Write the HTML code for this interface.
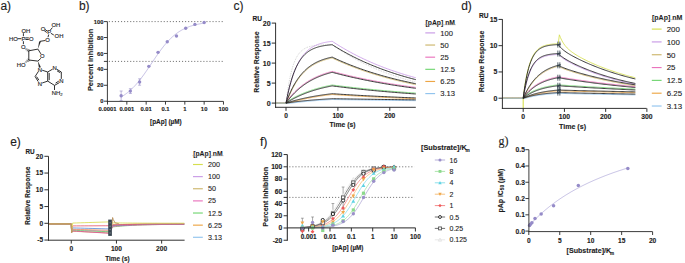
<!DOCTYPE html>
<html><head><meta charset="utf-8"><style>
html,body{margin:0;padding:0;background:#fff;width:685px;height:263px;overflow:hidden}
svg{display:block}
</style></head><body>
<svg width="685" height="263" viewBox="0 0 685 263">
<rect width="685" height="263" fill="#fff"/>
<text x="0.40" y="9.70" font-size="12" text-anchor="start" font-weight="normal" fill="#1c1c1c" font-family='"Liberation Sans", sans-serif'  stroke="#1c1c1c" stroke-width="0.12">a)</text>
<text x="25.80" y="32.81" font-size="5.9" text-anchor="middle" font-weight="normal" fill="#262626" font-family='"Liberation Sans", sans-serif'  stroke="#262626" stroke-width="0.15">OH</text>
<text x="13.50" y="40.81" font-size="5.9" text-anchor="middle" font-weight="normal" fill="#262626" font-family='"Liberation Sans", sans-serif'  stroke="#262626" stroke-width="0.15">HO</text>
<text x="23.50" y="40.81" font-size="5.9" text-anchor="middle" font-weight="normal" fill="#262626" font-family='"Liberation Sans", sans-serif'  stroke="#262626" stroke-width="0.15">P</text>
<text x="31.30" y="40.81" font-size="5.9" text-anchor="middle" font-weight="normal" fill="#262626" font-family='"Liberation Sans", sans-serif'  stroke="#262626" stroke-width="0.15">O</text>
<text x="23.20" y="48.81" font-size="5.9" text-anchor="middle" font-weight="normal" fill="#262626" font-family='"Liberation Sans", sans-serif'  stroke="#262626" stroke-width="0.15">O</text>
<line x1="23.40" y1="33.20" x2="23.40" y2="36.20" stroke="#262626" stroke-width="0.95" />
<line x1="17.60" y1="38.70" x2="21.40" y2="38.70" stroke="#262626" stroke-width="0.95" />
<line x1="25.40" y1="37.90" x2="28.80" y2="37.90" stroke="#262626" stroke-width="0.95" />
<line x1="25.40" y1="39.50" x2="28.80" y2="39.50" stroke="#262626" stroke-width="0.95" />
<line x1="23.40" y1="41.20" x2="23.40" y2="44.20" stroke="#262626" stroke-width="0.95" />
<text x="55.80" y="27.41" font-size="5.9" text-anchor="middle" font-weight="normal" fill="#262626" font-family='"Liberation Sans", sans-serif'  stroke="#262626" stroke-width="0.15">OH</text>
<text x="43.00" y="30.81" font-size="5.9" text-anchor="middle" font-weight="normal" fill="#262626" font-family='"Liberation Sans", sans-serif'  stroke="#262626" stroke-width="0.15">O</text>
<text x="49.20" y="34.21" font-size="5.9" text-anchor="middle" font-weight="normal" fill="#262626" font-family='"Liberation Sans", sans-serif'  stroke="#262626" stroke-width="0.15">P</text>
<text x="59.00" y="38.21" font-size="5.9" text-anchor="middle" font-weight="normal" fill="#262626" font-family='"Liberation Sans", sans-serif'  stroke="#262626" stroke-width="0.15">OH</text>
<text x="47.50" y="41.61" font-size="5.9" text-anchor="middle" font-weight="normal" fill="#262626" font-family='"Liberation Sans", sans-serif'  stroke="#262626" stroke-width="0.15">O</text>
<line x1="50.40" y1="30.00" x2="52.40" y2="27.60" stroke="#262626" stroke-width="0.95" />
<line x1="45.00" y1="29.50" x2="47.50" y2="31.20" stroke="#262626" stroke-width="0.95" />
<line x1="44.30" y1="30.80" x2="46.80" y2="32.50" stroke="#262626" stroke-width="0.95" />
<line x1="50.90" y1="33.30" x2="53.80" y2="35.00" stroke="#262626" stroke-width="0.95" />
<line x1="48.70" y1="34.50" x2="48.00" y2="37.20" stroke="#262626" stroke-width="0.95" />
<line x1="45.30" y1="40.50" x2="40.20" y2="41.30" stroke="#262626" stroke-width="0.95" />
<text x="42.40" y="58.11" font-size="5.9" text-anchor="middle" font-weight="normal" fill="#262626" font-family='"Liberation Sans", sans-serif'  stroke="#262626" stroke-width="0.15">O</text>
<line x1="28.80" y1="50.80" x2="37.90" y2="49.10" stroke="#262626" stroke-width="0.95" />
<line x1="37.90" y1="49.10" x2="40.90" y2="53.90" stroke="#262626" stroke-width="0.95" />
<line x1="40.90" y1="58.30" x2="37.90" y2="61.10" stroke="#262626" stroke-width="0.95" />
<line x1="37.90" y1="61.10" x2="28.80" y2="60.00" stroke="#262626" stroke-width="0.95" />
<line x1="28.80" y1="60.00" x2="28.80" y2="50.80" stroke="#262626" stroke-width="0.95" />
<polygon points="37.90,49.10 39.10,41.50 41.10,41.10" fill="#262626"/>
<polygon points="37.90,61.10 38.90,67.80 40.90,67.30" fill="#262626"/>
<line x1="27.98" y1="52.05" x2="29.62" y2="49.55" stroke="#262626" stroke-width="0.7" />
<line x1="27.18" y1="51.19" x2="28.52" y2="49.16" stroke="#262626" stroke-width="0.7" />
<line x1="26.38" y1="50.33" x2="27.42" y2="48.77" stroke="#262626" stroke-width="0.7" />
<line x1="25.59" y1="49.47" x2="26.31" y2="48.38" stroke="#262626" stroke-width="0.7" />
<line x1="24.79" y1="48.61" x2="25.21" y2="47.99" stroke="#262626" stroke-width="0.7" />
<text x="21.10" y="66.61" font-size="5.9" text-anchor="middle" font-weight="normal" fill="#262626" font-family='"Liberation Sans", sans-serif'  stroke="#262626" stroke-width="0.15">HO</text>
<line x1="29.68" y1="61.22" x2="27.92" y2="58.78" stroke="#262626" stroke-width="0.7" />
<line x1="28.61" y1="61.64" x2="27.19" y2="59.66" stroke="#262626" stroke-width="0.7" />
<line x1="27.55" y1="62.06" x2="26.45" y2="60.54" stroke="#262626" stroke-width="0.7" />
<line x1="26.48" y1="62.48" x2="25.72" y2="61.42" stroke="#262626" stroke-width="0.7" />
<line x1="25.42" y1="62.90" x2="24.98" y2="62.30" stroke="#262626" stroke-width="0.7" />
<text x="39.90" y="71.61" font-size="5.9" text-anchor="middle" font-weight="normal" fill="#262626" font-family='"Liberation Sans", sans-serif'  stroke="#262626" stroke-width="0.15">N</text>
<text x="39.80" y="86.01" font-size="5.9" text-anchor="middle" font-weight="normal" fill="#262626" font-family='"Liberation Sans", sans-serif'  stroke="#262626" stroke-width="0.15">N</text>
<text x="54.60" y="70.11" font-size="5.9" text-anchor="middle" font-weight="normal" fill="#262626" font-family='"Liberation Sans", sans-serif'  stroke="#262626" stroke-width="0.15">N</text>
<text x="61.50" y="83.31" font-size="5.9" text-anchor="middle" font-weight="normal" fill="#262626" font-family='"Liberation Sans", sans-serif'  stroke="#262626" stroke-width="0.15">N</text>
<line x1="38.30" y1="71.60" x2="35.10" y2="76.50" stroke="#262626" stroke-width="0.95" />
<line x1="35.10" y1="76.50" x2="38.20" y2="81.60" stroke="#262626" stroke-width="0.95" />
<line x1="36.60" y1="76.60" x2="38.90" y2="80.20" stroke="#262626" stroke-width="0.95" />
<line x1="42.20" y1="83.00" x2="47.70" y2="81.10" stroke="#262626" stroke-width="0.95" />
<line x1="47.70" y1="81.10" x2="47.70" y2="72.00" stroke="#262626" stroke-width="0.95" />
<line x1="49.20" y1="80.10" x2="49.20" y2="73.00" stroke="#262626" stroke-width="0.95" />
<line x1="47.70" y1="72.00" x2="42.20" y2="70.20" stroke="#262626" stroke-width="0.95" />
<line x1="47.70" y1="72.00" x2="52.50" y2="69.20" stroke="#262626" stroke-width="0.95" />
<line x1="56.70" y1="69.20" x2="61.30" y2="72.00" stroke="#262626" stroke-width="0.95" />
<line x1="57.00" y1="70.80" x2="60.20" y2="72.70" stroke="#262626" stroke-width="0.95" />
<line x1="61.30" y1="72.00" x2="61.30" y2="78.90" stroke="#262626" stroke-width="0.95" />
<line x1="59.40" y1="82.60" x2="54.50" y2="85.40" stroke="#262626" stroke-width="0.95" />
<line x1="58.80" y1="81.10" x2="55.60" y2="83.10" stroke="#262626" stroke-width="0.95" />
<line x1="54.50" y1="85.40" x2="47.70" y2="81.10" stroke="#262626" stroke-width="0.95" />
<line x1="54.50" y1="85.40" x2="54.50" y2="90.00" stroke="#262626" stroke-width="0.95" />
<text x="51.80" y="95.31" font-size="5.9" text-anchor="start" font-weight="normal" fill="#262626" font-family='"Liberation Sans", sans-serif'  stroke="#262626" stroke-width="0.15">NH</text>
<text x="60.30" y="96.10" font-size="4.2" text-anchor="start" font-weight="normal" fill="#262626" font-family='"Liberation Sans", sans-serif'  stroke="#262626" stroke-width="0.1">2</text>
<text x="78.90" y="9.90" font-size="12" text-anchor="start" font-weight="normal" fill="#1c1c1c" font-family='"Liberation Sans", sans-serif'  stroke="#1c1c1c" stroke-width="0.12">b)</text>
<line x1="108.80" y1="21.60" x2="223.48" y2="21.60" stroke="#444" stroke-width="0.75" stroke-dasharray="1.1 1.95"/>
<line x1="108.80" y1="61.40" x2="223.48" y2="61.40" stroke="#444" stroke-width="0.75" stroke-dasharray="1.1 1.95"/>
<line x1="103.90" y1="61.40" x2="107.40" y2="61.40" stroke="#262626" stroke-width="0.9" />
<polyline points="121.15,96.92 121.85,96.52 122.54,96.10 123.24,95.67 123.94,95.22 124.64,94.76 125.33,94.28 126.03,93.78 126.73,93.26 127.43,92.72 128.12,92.17 128.82,91.59 129.52,91.00 130.22,90.39 130.91,89.76 131.61,89.10 132.31,88.43 133.01,87.74 133.70,87.03 134.40,86.30 135.10,85.55 135.80,84.78 136.49,83.99 137.19,83.18 137.89,82.36 138.59,81.51 139.28,80.65 139.98,79.77 140.68,78.87 141.38,77.96 142.07,77.03 142.77,76.09 143.47,75.13 144.17,74.16 144.86,73.17 145.56,72.18 146.26,71.18 146.96,70.16 147.65,69.14 148.35,68.11 149.05,67.08 149.75,66.04 150.44,65.00 151.14,63.96 151.84,62.92 152.54,61.87 153.23,60.83 153.93,59.79 154.63,58.76 155.33,57.73 156.02,56.71 156.72,55.70 157.42,54.70 158.12,53.71 158.81,52.72 159.51,51.75 160.21,50.80 160.91,49.86 161.60,48.93 162.30,48.02 163.00,47.12 163.70,46.24 164.39,45.38 165.09,44.54 165.79,43.71 166.49,42.91 167.18,42.12 167.88,41.35 168.58,40.61 169.28,39.88 169.97,39.17 170.67,38.48 171.37,37.81 172.07,37.16 172.76,36.53 173.46,35.92 174.16,35.33 174.86,34.76 175.55,34.21 176.25,33.67 176.95,33.16 177.65,32.66 178.34,32.18 179.04,31.71 179.74,31.27 180.44,30.84 181.13,30.42 181.83,30.03 182.53,29.64 183.23,29.27 183.92,28.92 184.62,28.58 185.32,28.25 186.02,27.94 186.71,27.64 187.41,27.35 188.11,27.08 188.81,26.81 189.50,26.56 190.20,26.31 190.90,26.08 191.60,25.86 192.29,25.64 192.99,25.44 193.69,25.25 194.39,25.06 195.08,24.88 195.78,24.71 196.48,24.55 197.18,24.39 197.87,24.24 198.57,24.10 199.27,23.96 199.97,23.83 200.66,23.71 201.36,23.59 202.06,23.48 202.76,23.37 203.45,23.27 204.15,23.17" fill="none" stroke="#aea6d8" stroke-width="0.7" stroke-linejoin="round" />
<line x1="121.15" y1="91.01" x2="121.15" y2="100.56" stroke="#958bc8" stroke-width="0.6" />
<line x1="119.65" y1="91.01" x2="122.65" y2="91.01" stroke="#958bc8" stroke-width="0.6" />
<line x1="119.65" y1="100.56" x2="122.65" y2="100.56" stroke="#958bc8" stroke-width="0.6" />
<circle cx="121.15" cy="95.79" r="1.7" fill="#958bc8"/>
<line x1="130.37" y1="88.70" x2="130.37" y2="93.48" stroke="#958bc8" stroke-width="0.6" />
<line x1="128.87" y1="88.70" x2="131.87" y2="88.70" stroke="#958bc8" stroke-width="0.6" />
<line x1="128.87" y1="93.48" x2="131.87" y2="93.48" stroke="#958bc8" stroke-width="0.6" />
<circle cx="130.37" cy="91.09" r="1.7" fill="#958bc8"/>
<line x1="139.59" y1="78.83" x2="139.59" y2="85.20" stroke="#958bc8" stroke-width="0.6" />
<line x1="138.09" y1="78.83" x2="141.09" y2="78.83" stroke="#958bc8" stroke-width="0.6" />
<line x1="138.09" y1="85.20" x2="141.09" y2="85.20" stroke="#958bc8" stroke-width="0.6" />
<circle cx="139.59" cy="82.02" r="1.7" fill="#958bc8"/>
<circle cx="148.82" cy="66.34" r="1.7" fill="#958bc8"/>
<circle cx="158.04" cy="52.33" r="1.7" fill="#958bc8"/>
<circle cx="167.26" cy="41.82" r="1.7" fill="#958bc8"/>
<circle cx="176.48" cy="35.93" r="1.7" fill="#958bc8"/>
<circle cx="185.71" cy="28.21" r="1.7" fill="#958bc8"/>
<circle cx="194.93" cy="24.39" r="1.7" fill="#958bc8"/>
<circle cx="204.15" cy="22.48" r="1.7" fill="#958bc8"/>
<line x1="107.40" y1="21.60" x2="107.40" y2="101.90" stroke="#262626" stroke-width="0.9" />
<line x1="106.90" y1="101.40" x2="223.40" y2="101.40" stroke="#262626" stroke-width="0.9" />
<line x1="103.90" y1="101.20" x2="107.40" y2="101.20" stroke="#262626" stroke-width="0.9" />
<text x="103.40" y="103.28" font-size="5.8" text-anchor="end" font-weight="bold" fill="#1c1c1c" font-family='"Liberation Sans", sans-serif'  stroke="#1c1c1c" stroke-width="0.12">0</text>
<line x1="103.90" y1="85.28" x2="107.40" y2="85.28" stroke="#262626" stroke-width="0.9" />
<text x="103.40" y="87.36" font-size="5.8" text-anchor="end" font-weight="bold" fill="#1c1c1c" font-family='"Liberation Sans", sans-serif'  stroke="#1c1c1c" stroke-width="0.12">20</text>
<line x1="103.90" y1="69.36" x2="107.40" y2="69.36" stroke="#262626" stroke-width="0.9" />
<text x="103.40" y="71.44" font-size="5.8" text-anchor="end" font-weight="bold" fill="#1c1c1c" font-family='"Liberation Sans", sans-serif'  stroke="#1c1c1c" stroke-width="0.12">40</text>
<line x1="103.90" y1="53.44" x2="107.40" y2="53.44" stroke="#262626" stroke-width="0.9" />
<text x="103.40" y="55.52" font-size="5.8" text-anchor="end" font-weight="bold" fill="#1c1c1c" font-family='"Liberation Sans", sans-serif'  stroke="#1c1c1c" stroke-width="0.12">60</text>
<line x1="103.90" y1="37.52" x2="107.40" y2="37.52" stroke="#262626" stroke-width="0.9" />
<text x="103.40" y="39.60" font-size="5.8" text-anchor="end" font-weight="bold" fill="#1c1c1c" font-family='"Liberation Sans", sans-serif'  stroke="#1c1c1c" stroke-width="0.12">80</text>
<line x1="103.90" y1="21.60" x2="107.40" y2="21.60" stroke="#262626" stroke-width="0.9" />
<text x="103.40" y="23.68" font-size="5.8" text-anchor="end" font-weight="bold" fill="#1c1c1c" font-family='"Liberation Sans", sans-serif'  stroke="#1c1c1c" stroke-width="0.12">100</text>
<line x1="107.50" y1="101.40" x2="107.50" y2="104.60" stroke="#262626" stroke-width="0.9" />
<text x="107.50" y="111.41" font-size="5.9" text-anchor="middle" font-weight="bold" fill="#1c1c1c" font-family='"Liberation Sans", sans-serif'  stroke="#1c1c1c" stroke-width="0.12">0.0001</text>
<line x1="126.83" y1="101.40" x2="126.83" y2="104.60" stroke="#262626" stroke-width="0.9" />
<text x="126.83" y="111.41" font-size="5.9" text-anchor="middle" font-weight="bold" fill="#1c1c1c" font-family='"Liberation Sans", sans-serif'  stroke="#1c1c1c" stroke-width="0.12">0.001</text>
<line x1="146.16" y1="101.40" x2="146.16" y2="104.60" stroke="#262626" stroke-width="0.9" />
<text x="146.16" y="111.41" font-size="5.9" text-anchor="middle" font-weight="bold" fill="#1c1c1c" font-family='"Liberation Sans", sans-serif'  stroke="#1c1c1c" stroke-width="0.12">0.01</text>
<line x1="165.49" y1="101.40" x2="165.49" y2="104.60" stroke="#262626" stroke-width="0.9" />
<text x="165.49" y="111.41" font-size="5.9" text-anchor="middle" font-weight="bold" fill="#1c1c1c" font-family='"Liberation Sans", sans-serif'  stroke="#1c1c1c" stroke-width="0.12">0.1</text>
<line x1="184.82" y1="101.40" x2="184.82" y2="104.60" stroke="#262626" stroke-width="0.9" />
<text x="184.82" y="111.41" font-size="5.9" text-anchor="middle" font-weight="bold" fill="#1c1c1c" font-family='"Liberation Sans", sans-serif'  stroke="#1c1c1c" stroke-width="0.12">1</text>
<line x1="204.15" y1="101.40" x2="204.15" y2="104.60" stroke="#262626" stroke-width="0.9" />
<text x="204.15" y="111.41" font-size="5.9" text-anchor="middle" font-weight="bold" fill="#1c1c1c" font-family='"Liberation Sans", sans-serif'  stroke="#1c1c1c" stroke-width="0.12">10</text>
<line x1="223.48" y1="101.40" x2="223.48" y2="104.60" stroke="#262626" stroke-width="0.9" />
<text x="223.48" y="111.41" font-size="5.9" text-anchor="middle" font-weight="bold" fill="#1c1c1c" font-family='"Liberation Sans", sans-serif'  stroke="#1c1c1c" stroke-width="0.12">100</text>
<text x="165.90" y="124.49" font-size="6.4" text-anchor="middle" font-weight="bold" fill="#1c1c1c" font-family='"Liberation Sans", sans-serif'  stroke="#1c1c1c" stroke-width="0.12">[pAp] (µM)</text>
<text transform="translate(90.00,59.90) rotate(-90)" x="0" y="2.65" font-size="7.4" text-anchor="middle" font-weight="bold" fill="#1c1c1c" font-family='"Liberation Sans", sans-serif'  stroke="#1c1c1c" stroke-width="0.12">Percent Inhibition</text>
<text x="233.60" y="9.90" font-size="12" text-anchor="start" font-weight="normal" fill="#1c1c1c" font-family='"Liberation Sans", sans-serif'  stroke="#1c1c1c" stroke-width="0.12">c)</text>
<text x="252.60" y="20.96" font-size="6.6" text-anchor="start" font-weight="bold" fill="#1c1c1c" font-family='"Liberation Sans", sans-serif'  stroke="#1c1c1c" stroke-width="0.12">RU</text>
<polyline points="287.04,94.96 287.96,88.68 288.88,83.19 289.80,78.38 290.72,74.17 291.65,70.49 292.57,67.26 293.49,64.44 294.41,61.97 295.33,59.81 296.25,57.92 297.17,56.26 298.10,54.81 299.02,53.54 299.94,52.43 300.86,51.45 301.78,50.60 302.70,49.86 303.62,49.21 304.55,48.63 305.47,48.14 306.39,47.70 307.31,47.31 308.23,46.98 309.15,46.69 310.08,46.43 311.00,46.20 311.92,46.01 312.84,45.84 313.76,45.68 314.68,45.55 315.60,45.44 316.53,45.34 317.45,45.25 318.37,45.17 319.29,45.10 320.21,45.04 321.13,44.99 322.05,44.95 322.98,44.91 323.90,44.87 324.82,44.84 325.74,44.81 326.66,44.79 327.58,44.77 328.51,44.75 329.43,44.74 330.35,44.72 331.27,44.71 332.19,44.70 332.19,44.70 334.33,46.21 336.48,47.68 338.62,49.11 340.76,50.51 342.90,51.87 345.05,53.19 347.19,54.48 349.33,55.74 351.47,56.97 353.62,58.16 355.76,59.32 357.90,60.45 360.04,61.56 362.19,62.63 364.33,63.68 366.47,64.70 368.61,65.69 370.76,66.66 372.90,67.60 375.04,68.52 377.18,69.41 379.33,70.28 381.47,71.13 383.61,71.96 385.75,72.76 387.90,73.55 390.04,74.31 392.18,75.05 394.32,75.78 396.47,76.49 398.61,77.17 400.75,77.84 402.89,78.50 405.04,79.13 407.18,79.75 409.32,80.36 411.46,80.95 413.61,81.52 415.75,82.08" fill="none" stroke="#b0b0b0" stroke-width="0.65" stroke-linejoin="round" stroke-dasharray="0.8 1.0"/>
<polyline points="275.10,103.10 277.83,103.10 280.55,103.10 283.28,103.10 286.00,103.10 286.00,103.10 286.67,99.71 287.34,96.50 288.01,93.46 288.68,90.59 289.35,87.87 290.02,85.30 290.69,82.86 291.36,80.55 292.02,78.37 292.69,76.31 293.36,74.35 294.03,72.51 294.70,70.76 295.37,69.10 296.04,67.53 296.71,66.05 297.38,64.65 298.05,63.32 298.72,62.06 299.39,60.87 300.06,59.75 300.73,58.68 301.40,57.67 302.07,56.72 302.74,55.82 303.41,54.96 304.07,54.15 304.74,53.39 305.41,52.67 306.08,51.98 306.75,51.33 307.42,50.72 308.09,50.14 308.76,49.59 309.43,49.07 310.10,48.58 310.77,48.11 311.44,47.67 312.11,47.25 312.78,46.86 313.45,46.48 314.12,46.13 314.79,45.80 315.46,45.48 316.12,45.18 316.79,44.90 317.46,44.63 318.13,44.37 318.80,44.13 319.47,43.90 320.14,43.69 320.81,43.49 321.48,43.29 322.15,43.11 322.82,42.94 323.49,42.77 324.16,42.62 324.83,42.47 325.50,42.34 326.17,42.20 326.84,42.08 327.50,41.96 328.17,41.85 328.84,41.75 329.51,41.65 330.18,41.55 330.85,41.46 331.52,41.38 332.19,41.30 332.19,41.30 333.61,42.23 335.02,43.14 336.44,44.04 337.86,44.92 339.27,45.80 340.69,46.66 342.10,47.50 343.52,48.34 344.94,49.16 346.35,49.97 347.77,50.76 349.19,51.55 350.60,52.32 352.02,53.08 353.43,53.83 354.85,54.57 356.27,55.30 357.68,56.02 359.10,56.72 360.52,57.42 361.93,58.10 363.35,58.78 364.76,59.44 366.18,60.10 367.60,60.74 369.01,61.38 370.43,62.01 371.85,62.62 373.26,63.23 374.68,63.83 376.09,64.42 377.51,65.00 378.93,65.57 380.34,66.13 381.76,66.68 383.18,67.23 384.59,67.77 386.01,68.30 387.42,68.82 388.84,69.33 390.26,69.84 391.67,70.34 393.09,70.83 394.51,71.32 395.92,71.79 397.34,72.26 398.75,72.72 400.17,73.18 401.59,73.63 403.00,74.07 404.42,74.51 405.84,74.93 407.25,75.36 408.67,75.77 410.08,76.18 411.50,76.59 412.92,76.98 414.33,77.38 415.75,77.76" fill="none" stroke="#c99be6" stroke-width="0.85" stroke-linejoin="round" />
<polyline points="275.10,103.10 277.83,103.10 280.55,103.10 283.28,103.10 286.00,103.10 286.00,103.10 286.67,101.45 287.34,99.86 288.01,98.34 288.68,96.89 289.35,95.43 290.02,93.90 290.69,92.43 291.36,91.01 292.02,89.65 292.69,88.34 293.36,87.07 294.03,85.86 294.70,84.69 295.37,83.56 296.04,82.47 296.71,81.43 297.38,80.42 298.05,79.45 298.72,78.52 299.39,77.62 300.06,76.75 300.73,75.92 301.40,75.12 302.07,74.35 302.74,73.60 303.41,72.89 304.07,72.20 304.74,71.54 305.41,70.90 306.08,70.28 306.75,69.69 307.42,69.12 308.09,68.57 308.76,68.04 309.43,67.54 310.10,67.05 310.77,66.57 311.44,66.12 312.11,65.68 312.78,65.26 313.45,64.86 314.12,64.47 314.79,64.09 315.46,63.73 316.12,63.38 316.79,63.05 317.46,62.72 318.13,62.41 318.80,62.11 319.47,61.83 320.14,61.55 320.81,61.28 321.48,61.03 322.15,60.78 322.82,60.54 323.49,60.31 324.16,60.09 324.83,59.88 325.50,59.67 326.17,59.47 326.84,59.28 327.50,59.10 328.17,58.93 328.84,58.76 329.51,58.59 330.18,58.44 330.85,58.29 331.52,58.14 332.19,58.00 332.19,58.00 333.61,58.67 335.02,59.33 336.44,59.98 337.86,60.62 339.27,61.25 340.69,61.87 342.10,62.48 343.52,63.09 344.94,63.68 346.35,64.27 347.77,64.85 349.19,65.41 350.60,65.98 352.02,66.53 353.43,67.07 354.85,67.61 356.27,68.14 357.68,68.66 359.10,69.17 360.52,69.68 361.93,70.18 363.35,70.67 364.76,71.16 366.18,71.63 367.60,72.10 369.01,72.57 370.43,73.03 371.85,73.48 373.26,73.92 374.68,74.36 376.09,74.79 377.51,75.21 378.93,75.63 380.34,76.04 381.76,76.45 383.18,76.85 384.59,77.25 386.01,77.63 387.42,78.02 388.84,78.40 390.26,78.77 391.67,79.13 393.09,79.50 394.51,79.85 395.92,80.20 397.34,80.55 398.75,80.89 400.17,81.23 401.59,81.56 403.00,81.88 404.42,82.21 405.84,82.52 407.25,82.83 408.67,83.14 410.08,83.45 411.50,83.74 412.92,84.04 414.33,84.33 415.75,84.62" fill="none" stroke="#cdb66c" stroke-width="0.85" stroke-linejoin="round" />
<polyline points="275.10,103.10 277.83,103.10 280.55,103.10 283.28,103.10 286.00,103.10 286.00,103.10 286.67,102.00 287.34,100.91 288.01,99.85 288.68,98.81 289.35,97.86 290.02,97.05 290.69,96.26 291.36,95.50 292.02,94.75 292.69,94.01 293.36,93.30 294.03,92.60 294.70,91.92 295.37,91.26 296.04,90.61 296.71,89.98 297.38,89.36 298.05,88.76 298.72,88.17 299.39,87.60 300.06,87.04 300.73,86.49 301.40,85.96 302.07,85.44 302.74,84.93 303.41,84.44 304.07,83.95 304.74,83.48 305.41,83.02 306.08,82.57 306.75,82.13 307.42,81.71 308.09,81.29 308.76,80.88 309.43,80.48 310.10,80.09 310.77,79.72 311.44,79.35 312.11,78.99 312.78,78.63 313.45,78.29 314.12,77.95 314.79,77.63 315.46,77.31 316.12,77.00 316.79,76.69 317.46,76.39 318.13,76.10 318.80,75.82 319.47,75.55 320.14,75.28 320.81,75.01 321.48,74.76 322.15,74.51 322.82,74.26 323.49,74.02 324.16,73.79 324.83,73.56 325.50,73.34 326.17,73.13 326.84,72.92 327.50,72.71 328.17,72.51 328.84,72.31 329.51,72.12 330.18,71.93 330.85,71.75 331.52,71.57 332.19,71.40 332.19,71.40 333.61,71.78 335.02,72.16 336.44,72.53 337.86,72.89 339.27,73.26 340.69,73.61 342.10,73.97 343.52,74.32 344.94,74.66 346.35,75.00 347.77,75.34 349.19,75.67 350.60,76.00 352.02,76.32 353.43,76.64 354.85,76.96 356.27,77.27 357.68,77.58 359.10,77.88 360.52,78.18 361.93,78.48 363.35,78.77 364.76,79.06 366.18,79.35 367.60,79.63 369.01,79.91 370.43,80.18 371.85,80.45 373.26,80.72 374.68,80.99 376.09,81.25 377.51,81.51 378.93,81.77 380.34,82.02 381.76,82.27 383.18,82.51 384.59,82.76 386.01,83.00 387.42,83.23 388.84,83.47 390.26,83.70 391.67,83.93 393.09,84.15 394.51,84.38 395.92,84.60 397.34,84.82 398.75,85.03 400.17,85.24 401.59,85.45 403.00,85.66 404.42,85.86 405.84,86.06 407.25,86.26 408.67,86.46 410.08,86.66 411.50,86.85 412.92,87.04 414.33,87.22 415.75,87.41" fill="none" stroke="#ea74bd" stroke-width="0.85" stroke-linejoin="round" />
<polyline points="275.10,103.10 277.83,103.10 280.55,103.10 283.28,103.10 286.00,103.10 286.00,103.10 286.67,102.48 287.34,101.87 288.01,101.26 288.68,100.66 289.35,100.14 290.02,99.75 290.69,99.36 291.36,98.99 292.02,98.62 292.69,98.25 293.36,97.89 294.03,97.54 294.70,97.20 295.37,96.86 296.04,96.52 296.71,96.20 297.38,95.87 298.05,95.56 298.72,95.25 299.39,94.94 300.06,94.64 300.73,94.35 301.40,94.06 302.07,93.77 302.74,93.49 303.41,93.22 304.07,92.95 304.74,92.68 305.41,92.42 306.08,92.16 306.75,91.91 307.42,91.67 308.09,91.42 308.76,91.18 309.43,90.95 310.10,90.72 310.77,90.49 311.44,90.27 312.11,90.05 312.78,89.84 313.45,89.62 314.12,89.42 314.79,89.21 315.46,89.01 316.12,88.82 316.79,88.62 317.46,88.43 318.13,88.25 318.80,88.06 319.47,87.88 320.14,87.71 320.81,87.53 321.48,87.36 322.15,87.19 322.82,87.03 323.49,86.87 324.16,86.71 324.83,86.55 325.50,86.40 326.17,86.25 326.84,86.10 327.50,85.95 328.17,85.81 328.84,85.67 329.51,85.53 330.18,85.39 330.85,85.26 331.52,85.13 332.19,85.00 332.19,85.00 333.61,85.18 335.02,85.37 336.44,85.55 337.86,85.73 339.27,85.90 340.69,86.08 342.10,86.25 343.52,86.42 344.94,86.59 346.35,86.76 347.77,86.92 349.19,87.09 350.60,87.25 352.02,87.41 353.43,87.57 354.85,87.73 356.27,87.88 357.68,88.04 359.10,88.19 360.52,88.34 361.93,88.49 363.35,88.63 364.76,88.78 366.18,88.92 367.60,89.07 369.01,89.21 370.43,89.35 371.85,89.48 373.26,89.62 374.68,89.75 376.09,89.89 377.51,90.02 378.93,90.15 380.34,90.28 381.76,90.41 383.18,90.53 384.59,90.66 386.01,90.78 387.42,90.91 388.84,91.03 390.26,91.15 391.67,91.27 393.09,91.38 394.51,91.50 395.92,91.61 397.34,91.73 398.75,91.84 400.17,91.95 401.59,92.06 403.00,92.17 404.42,92.28 405.84,92.38 407.25,92.49 408.67,92.59 410.08,92.70 411.50,92.80 412.92,92.90 414.33,93.00 415.75,93.10" fill="none" stroke="#72d672" stroke-width="0.85" stroke-linejoin="round" />
<polyline points="275.10,103.10 277.83,103.10 280.55,103.10 283.28,103.10 286.00,103.10 286.00,103.10 286.67,103.06 287.34,103.01 288.01,102.98 288.68,102.94 289.35,102.85 290.02,102.65 290.69,102.45 291.36,102.26 292.02,102.06 292.69,101.87 293.36,101.69 294.03,101.50 294.70,101.32 295.37,101.14 296.04,100.97 296.71,100.80 297.38,100.63 298.05,100.46 298.72,100.29 299.39,100.13 300.06,99.97 300.73,99.81 301.40,99.65 302.07,99.50 302.74,99.35 303.41,99.20 304.07,99.05 304.74,98.91 305.41,98.77 306.08,98.63 306.75,98.49 307.42,98.35 308.09,98.22 308.76,98.08 309.43,97.95 310.10,97.82 310.77,97.70 311.44,97.57 312.11,97.45 312.78,97.33 313.45,97.21 314.12,97.09 314.79,96.98 315.46,96.86 316.12,96.75 316.79,96.64 317.46,96.53 318.13,96.42 318.80,96.32 319.47,96.21 320.14,96.11 320.81,96.01 321.48,95.91 322.15,95.81 322.82,95.71 323.49,95.62 324.16,95.52 324.83,95.43 325.50,95.34 326.17,95.25 326.84,95.16 327.50,95.08 328.17,94.99 328.84,94.90 329.51,94.82 330.18,94.74 330.85,94.66 331.52,94.58 332.19,94.50 332.19,94.50 333.61,94.60 335.02,94.69 336.44,94.78 337.86,94.87 339.27,94.97 340.69,95.06 342.10,95.15 343.52,95.23 344.94,95.32 346.35,95.41 347.77,95.49 349.19,95.58 350.60,95.66 352.02,95.75 353.43,95.83 354.85,95.91 356.27,95.99 357.68,96.07 359.10,96.15 360.52,96.23 361.93,96.31 363.35,96.38 364.76,96.46 366.18,96.54 367.60,96.61 369.01,96.68 370.43,96.76 371.85,96.83 373.26,96.90 374.68,96.97 376.09,97.04 377.51,97.11 378.93,97.18 380.34,97.25 381.76,97.32 383.18,97.38 384.59,97.45 386.01,97.51 387.42,97.58 388.84,97.64 390.26,97.70 391.67,97.77 393.09,97.83 394.51,97.89 395.92,97.95 397.34,98.01 398.75,98.07 400.17,98.13 401.59,98.19 403.00,98.25 404.42,98.30 405.84,98.36 407.25,98.42 408.67,98.47 410.08,98.53 411.50,98.58 412.92,98.64 414.33,98.69 415.75,98.74" fill="none" stroke="#eda645" stroke-width="0.85" stroke-linejoin="round" />
<polyline points="275.10,103.10 277.83,103.10 280.55,103.10 283.28,103.10 286.00,103.10 286.00,103.10 286.67,103.17 287.34,103.24 288.01,103.32 288.68,103.39 289.35,103.41 290.02,103.31 290.69,103.22 291.36,103.13 292.02,103.04 292.69,102.95 293.36,102.86 294.03,102.78 294.70,102.69 295.37,102.61 296.04,102.53 296.71,102.45 297.38,102.37 298.05,102.29 298.72,102.21 299.39,102.13 300.06,102.06 300.73,101.99 301.40,101.91 302.07,101.84 302.74,101.77 303.41,101.70 304.07,101.63 304.74,101.56 305.41,101.50 306.08,101.43 306.75,101.37 307.42,101.30 308.09,101.24 308.76,101.18 309.43,101.12 310.10,101.06 310.77,101.00 311.44,100.94 312.11,100.88 312.78,100.82 313.45,100.77 314.12,100.71 314.79,100.66 315.46,100.61 316.12,100.55 316.79,100.50 317.46,100.45 318.13,100.40 318.80,100.35 319.47,100.30 320.14,100.25 320.81,100.21 321.48,100.16 322.15,100.11 322.82,100.07 323.49,100.02 324.16,99.98 324.83,99.94 325.50,99.89 326.17,99.85 326.84,99.81 327.50,99.77 328.17,99.73 328.84,99.69 329.51,99.65 330.18,99.61 330.85,99.57 331.52,99.54 332.19,99.50 332.19,99.50 333.61,99.52 335.02,99.55 336.44,99.57 337.86,99.59 339.27,99.61 340.69,99.64 342.10,99.66 343.52,99.68 344.94,99.70 346.35,99.72 347.77,99.75 349.19,99.77 350.60,99.79 352.02,99.81 353.43,99.83 354.85,99.85 356.27,99.87 357.68,99.89 359.10,99.92 360.52,99.94 361.93,99.96 363.35,99.98 364.76,100.00 366.18,100.02 367.60,100.04 369.01,100.06 370.43,100.08 371.85,100.10 373.26,100.12 374.68,100.14 376.09,100.16 377.51,100.18 378.93,100.20 380.34,100.22 381.76,100.23 383.18,100.25 384.59,100.27 386.01,100.29 387.42,100.31 388.84,100.33 390.26,100.35 391.67,100.37 393.09,100.38 394.51,100.40 395.92,100.42 397.34,100.44 398.75,100.46 400.17,100.47 401.59,100.49 403.00,100.51 404.42,100.53 405.84,100.55 407.25,100.56 408.67,100.58 410.08,100.60 411.50,100.61 412.92,100.63 414.33,100.65 415.75,100.67" fill="none" stroke="#92c4ee" stroke-width="0.85" stroke-linejoin="round" />
<polyline points="286.00,103.10 286.00,103.10 286.67,99.59 287.34,96.30 288.01,93.19 288.68,90.27 289.35,87.53 290.02,84.94 290.69,82.51 291.36,80.22 292.02,78.07 292.69,76.05 293.36,74.14 294.03,72.35 294.70,70.66 295.37,69.07 296.04,67.58 296.71,66.17 297.38,64.85 298.05,63.61 298.72,62.44 299.39,61.34 300.06,60.30 300.73,59.33 301.40,58.41 302.07,57.55 302.74,56.73 303.41,55.97 304.07,55.25 304.74,54.58 305.41,53.94 306.08,53.34 306.75,52.78 307.42,52.25 308.09,51.75 308.76,51.28 309.43,50.84 310.10,50.42 310.77,50.03 311.44,49.67 312.11,49.32 312.78,48.99 313.45,48.69 314.12,48.40 314.79,48.13 315.46,47.87 316.12,47.63 316.79,47.41 317.46,47.20 318.13,47.00 318.80,46.81 319.47,46.63 320.14,46.46 320.81,46.31 321.48,46.16 322.15,46.02 322.82,45.89 323.49,45.77 324.16,45.65 324.83,45.54 325.50,45.44 326.17,45.35 326.84,45.26 327.50,45.17 328.17,45.09 328.84,45.02 329.51,44.94 330.18,44.88 330.85,44.81 331.52,44.76 332.19,44.70 332.19,44.70 333.61,45.60 335.02,46.48 336.44,47.35 337.86,48.20 339.27,49.04 340.69,49.87 342.10,50.69 343.52,51.49 344.94,52.28 346.35,53.06 347.77,53.83 349.19,54.59 350.60,55.33 352.02,56.06 353.43,56.78 354.85,57.49 356.27,58.19 357.68,58.88 359.10,59.56 360.52,60.23 361.93,60.88 363.35,61.53 364.76,62.17 366.18,62.80 367.60,63.42 369.01,64.02 370.43,64.62 371.85,65.21 373.26,65.79 374.68,66.37 376.09,66.93 377.51,67.48 378.93,68.03 380.34,68.57 381.76,69.10 383.18,69.62 384.59,70.13 386.01,70.64 387.42,71.14 388.84,71.63 390.26,72.11 391.67,72.58 393.09,73.05 394.51,73.51 395.92,73.97 397.34,74.41 398.75,74.85 400.17,75.29 401.59,75.71 403.00,76.13 404.42,76.55 405.84,76.95 407.25,77.35 408.67,77.75 410.08,78.14 411.50,78.52 412.92,78.90 414.33,79.27 415.75,79.63" fill="none" stroke="#222" stroke-width="0.9" stroke-linejoin="round" />
<polyline points="286.00,103.10 286.00,103.10 286.67,101.25 287.34,99.48 288.01,97.76 288.68,96.12 289.35,94.53 290.02,93.00 290.69,91.53 291.36,90.11 292.02,88.75 292.69,87.44 293.36,86.17 294.03,84.96 294.70,83.79 295.37,82.66 296.04,81.57 296.71,80.53 297.38,79.52 298.05,78.55 298.72,77.62 299.39,76.72 300.06,75.85 300.73,75.02 301.40,74.22 302.07,73.45 302.74,72.70 303.41,71.99 304.07,71.30 304.74,70.64 305.41,70.00 306.08,69.38 306.75,68.79 307.42,68.22 308.09,67.67 308.76,67.14 309.43,66.64 310.10,66.15 310.77,65.67 311.44,65.22 312.11,64.78 312.78,64.36 313.45,63.96 314.12,63.57 314.79,63.19 315.46,62.83 316.12,62.48 316.79,62.15 317.46,61.82 318.13,61.51 318.80,61.21 319.47,60.93 320.14,60.65 320.81,60.38 321.48,60.13 322.15,59.88 322.82,59.64 323.49,59.41 324.16,59.19 324.83,58.98 325.50,58.77 326.17,58.57 326.84,58.38 327.50,58.20 328.17,58.03 328.84,57.86 329.51,57.69 330.18,57.54 330.85,57.39 331.52,57.24 332.19,57.10 332.19,57.10 333.61,57.77 335.02,58.43 336.44,59.08 337.86,59.72 339.27,60.35 340.69,60.97 342.10,61.58 343.52,62.19 344.94,62.78 346.35,63.37 347.77,63.95 349.19,64.51 350.60,65.08 352.02,65.63 353.43,66.17 354.85,66.71 356.27,67.24 357.68,67.76 359.10,68.27 360.52,68.78 361.93,69.28 363.35,69.77 364.76,70.26 366.18,70.73 367.60,71.20 369.01,71.67 370.43,72.13 371.85,72.58 373.26,73.02 374.68,73.46 376.09,73.89 377.51,74.31 378.93,74.73 380.34,75.14 381.76,75.55 383.18,75.95 384.59,76.35 386.01,76.73 387.42,77.12 388.84,77.50 390.26,77.87 391.67,78.23 393.09,78.60 394.51,78.95 395.92,79.30 397.34,79.65 398.75,79.99 400.17,80.33 401.59,80.66 403.00,80.98 404.42,81.31 405.84,81.62 407.25,81.93 408.67,82.24 410.08,82.55 411.50,82.84 412.92,83.14 414.33,83.43 415.75,83.72" fill="none" stroke="#222" stroke-width="0.9" stroke-linejoin="round" />
<polyline points="286.00,103.10 286.00,103.10 286.67,102.19 287.34,101.30 288.01,100.43 288.68,99.58 289.35,98.76 290.02,97.95 290.69,97.16 291.36,96.40 292.02,95.65 292.69,94.91 293.36,94.20 294.03,93.50 294.70,92.82 295.37,92.16 296.04,91.51 296.71,90.88 297.38,90.26 298.05,89.66 298.72,89.07 299.39,88.50 300.06,87.94 300.73,87.39 301.40,86.86 302.07,86.34 302.74,85.83 303.41,85.34 304.07,84.85 304.74,84.38 305.41,83.92 306.08,83.47 306.75,83.03 307.42,82.61 308.09,82.19 308.76,81.78 309.43,81.38 310.10,80.99 310.77,80.62 311.44,80.25 312.11,79.89 312.78,79.53 313.45,79.19 314.12,78.85 314.79,78.53 315.46,78.21 316.12,77.90 316.79,77.59 317.46,77.29 318.13,77.00 318.80,76.72 319.47,76.45 320.14,76.18 320.81,75.91 321.48,75.66 322.15,75.41 322.82,75.16 323.49,74.92 324.16,74.69 324.83,74.46 325.50,74.24 326.17,74.03 326.84,73.82 327.50,73.61 328.17,73.41 328.84,73.21 329.51,73.02 330.18,72.83 330.85,72.65 331.52,72.47 332.19,72.30 332.19,72.30 333.61,72.68 335.02,73.06 336.44,73.43 337.86,73.79 339.27,74.16 340.69,74.51 342.10,74.87 343.52,75.22 344.94,75.56 346.35,75.90 347.77,76.24 349.19,76.57 350.60,76.90 352.02,77.22 353.43,77.54 354.85,77.86 356.27,78.17 357.68,78.48 359.10,78.78 360.52,79.08 361.93,79.38 363.35,79.67 364.76,79.96 366.18,80.25 367.60,80.53 369.01,80.81 370.43,81.08 371.85,81.35 373.26,81.62 374.68,81.89 376.09,82.15 377.51,82.41 378.93,82.67 380.34,82.92 381.76,83.17 383.18,83.41 384.59,83.66 386.01,83.90 387.42,84.13 388.84,84.37 390.26,84.60 391.67,84.83 393.09,85.05 394.51,85.28 395.92,85.50 397.34,85.72 398.75,85.93 400.17,86.14 401.59,86.35 403.00,86.56 404.42,86.76 405.84,86.96 407.25,87.16 408.67,87.36 410.08,87.56 411.50,87.75 412.92,87.94 414.33,88.12 415.75,88.31" fill="none" stroke="#222" stroke-width="0.9" stroke-linejoin="round" />
<polyline points="286.00,103.10 286.00,103.10 286.67,102.67 287.34,102.25 288.01,101.84 288.68,101.44 289.35,101.04 290.02,100.65 290.69,100.26 291.36,99.89 292.02,99.52 292.69,99.15 293.36,98.79 294.03,98.44 294.70,98.10 295.37,97.76 296.04,97.42 296.71,97.10 297.38,96.77 298.05,96.46 298.72,96.15 299.39,95.84 300.06,95.54 300.73,95.25 301.40,94.96 302.07,94.67 302.74,94.39 303.41,94.12 304.07,93.85 304.74,93.58 305.41,93.32 306.08,93.06 306.75,92.81 307.42,92.57 308.09,92.32 308.76,92.08 309.43,91.85 310.10,91.62 310.77,91.39 311.44,91.17 312.11,90.95 312.78,90.74 313.45,90.52 314.12,90.32 314.79,90.11 315.46,89.91 316.12,89.72 316.79,89.52 317.46,89.33 318.13,89.15 318.80,88.96 319.47,88.78 320.14,88.61 320.81,88.43 321.48,88.26 322.15,88.09 322.82,87.93 323.49,87.77 324.16,87.61 324.83,87.45 325.50,87.30 326.17,87.15 326.84,87.00 327.50,86.85 328.17,86.71 328.84,86.57 329.51,86.43 330.18,86.29 330.85,86.16 331.52,86.03 332.19,85.90 332.19,85.90 333.61,86.08 335.02,86.27 336.44,86.45 337.86,86.63 339.27,86.80 340.69,86.98 342.10,87.15 343.52,87.32 344.94,87.49 346.35,87.66 347.77,87.82 349.19,87.99 350.60,88.15 352.02,88.31 353.43,88.47 354.85,88.63 356.27,88.78 357.68,88.94 359.10,89.09 360.52,89.24 361.93,89.39 363.35,89.53 364.76,89.68 366.18,89.82 367.60,89.97 369.01,90.11 370.43,90.25 371.85,90.38 373.26,90.52 374.68,90.65 376.09,90.79 377.51,90.92 378.93,91.05 380.34,91.18 381.76,91.31 383.18,91.43 384.59,91.56 386.01,91.68 387.42,91.81 388.84,91.93 390.26,92.05 391.67,92.17 393.09,92.28 394.51,92.40 395.92,92.51 397.34,92.63 398.75,92.74 400.17,92.85 401.59,92.96 403.00,93.07 404.42,93.18 405.84,93.28 407.25,93.39 408.67,93.49 410.08,93.60 411.50,93.70 412.92,93.80 414.33,93.90 415.75,94.00" fill="none" stroke="#222" stroke-width="0.9" stroke-linejoin="round" />
<polyline points="286.00,103.10 286.00,103.10 286.67,102.88 287.34,102.67 288.01,102.46 288.68,102.25 289.35,102.05 290.02,101.85 290.69,101.65 291.36,101.46 292.02,101.26 292.69,101.07 293.36,100.89 294.03,100.70 294.70,100.52 295.37,100.34 296.04,100.17 296.71,100.00 297.38,99.83 298.05,99.66 298.72,99.49 299.39,99.33 300.06,99.17 300.73,99.01 301.40,98.85 302.07,98.70 302.74,98.55 303.41,98.40 304.07,98.25 304.74,98.11 305.41,97.97 306.08,97.83 306.75,97.69 307.42,97.55 308.09,97.42 308.76,97.28 309.43,97.15 310.10,97.02 310.77,96.90 311.44,96.77 312.11,96.65 312.78,96.53 313.45,96.41 314.12,96.29 314.79,96.18 315.46,96.06 316.12,95.95 316.79,95.84 317.46,95.73 318.13,95.62 318.80,95.52 319.47,95.41 320.14,95.31 320.81,95.21 321.48,95.11 322.15,95.01 322.82,94.91 323.49,94.82 324.16,94.72 324.83,94.63 325.50,94.54 326.17,94.45 326.84,94.36 327.50,94.28 328.17,94.19 328.84,94.10 329.51,94.02 330.18,93.94 330.85,93.86 331.52,93.78 332.19,93.70 332.19,93.70 333.61,93.80 335.02,93.89 336.44,93.98 337.86,94.07 339.27,94.17 340.69,94.26 342.10,94.35 343.52,94.43 344.94,94.52 346.35,94.61 347.77,94.69 349.19,94.78 350.60,94.86 352.02,94.95 353.43,95.03 354.85,95.11 356.27,95.19 357.68,95.27 359.10,95.35 360.52,95.43 361.93,95.51 363.35,95.58 364.76,95.66 366.18,95.74 367.60,95.81 369.01,95.88 370.43,95.96 371.85,96.03 373.26,96.10 374.68,96.17 376.09,96.24 377.51,96.31 378.93,96.38 380.34,96.45 381.76,96.52 383.18,96.58 384.59,96.65 386.01,96.71 387.42,96.78 388.84,96.84 390.26,96.90 391.67,96.97 393.09,97.03 394.51,97.09 395.92,97.15 397.34,97.21 398.75,97.27 400.17,97.33 401.59,97.39 403.00,97.45 404.42,97.50 405.84,97.56 407.25,97.62 408.67,97.67 410.08,97.73 411.50,97.78 412.92,97.84 414.33,97.89 415.75,97.94" fill="none" stroke="#222" stroke-width="0.9" stroke-linejoin="round" />
<polyline points="286.00,103.10 286.00,103.10 286.67,103.00 287.34,102.90 288.01,102.80 288.68,102.70 289.35,102.61 290.02,102.51 290.69,102.42 291.36,102.33 292.02,102.24 292.69,102.15 293.36,102.06 294.03,101.98 294.70,101.89 295.37,101.81 296.04,101.73 296.71,101.65 297.38,101.57 298.05,101.49 298.72,101.41 299.39,101.33 300.06,101.26 300.73,101.19 301.40,101.11 302.07,101.04 302.74,100.97 303.41,100.90 304.07,100.83 304.74,100.76 305.41,100.70 306.08,100.63 306.75,100.57 307.42,100.50 308.09,100.44 308.76,100.38 309.43,100.32 310.10,100.26 310.77,100.20 311.44,100.14 312.11,100.08 312.78,100.02 313.45,99.97 314.12,99.91 314.79,99.86 315.46,99.81 316.12,99.75 316.79,99.70 317.46,99.65 318.13,99.60 318.80,99.55 319.47,99.50 320.14,99.45 320.81,99.41 321.48,99.36 322.15,99.31 322.82,99.27 323.49,99.22 324.16,99.18 324.83,99.14 325.50,99.09 326.17,99.05 326.84,99.01 327.50,98.97 328.17,98.93 328.84,98.89 329.51,98.85 330.18,98.81 330.85,98.77 331.52,98.74 332.19,98.70 332.19,98.70 333.61,98.72 335.02,98.75 336.44,98.77 337.86,98.79 339.27,98.81 340.69,98.84 342.10,98.86 343.52,98.88 344.94,98.90 346.35,98.92 347.77,98.95 349.19,98.97 350.60,98.99 352.02,99.01 353.43,99.03 354.85,99.05 356.27,99.07 357.68,99.09 359.10,99.12 360.52,99.14 361.93,99.16 363.35,99.18 364.76,99.20 366.18,99.22 367.60,99.24 369.01,99.26 370.43,99.28 371.85,99.30 373.26,99.32 374.68,99.34 376.09,99.36 377.51,99.38 378.93,99.40 380.34,99.42 381.76,99.43 383.18,99.45 384.59,99.47 386.01,99.49 387.42,99.51 388.84,99.53 390.26,99.55 391.67,99.57 393.09,99.58 394.51,99.60 395.92,99.62 397.34,99.64 398.75,99.66 400.17,99.67 401.59,99.69 403.00,99.71 404.42,99.73 405.84,99.75 407.25,99.76 408.67,99.78 410.08,99.80 411.50,99.81 412.92,99.83 414.33,99.85 415.75,99.87" fill="none" stroke="#222" stroke-width="0.9" stroke-linejoin="round" />
<line x1="275.60" y1="22.80" x2="275.60" y2="107.80" stroke="#262626" stroke-width="0.95" />
<line x1="275.10" y1="107.30" x2="415.80" y2="107.30" stroke="#262626" stroke-width="0.95" />
<line x1="271.70" y1="103.10" x2="275.60" y2="103.10" stroke="#262626" stroke-width="0.95" />
<text x="270.60" y="105.61" font-size="7.0" text-anchor="end" font-weight="bold" fill="#1c1c1c" font-family='"Liberation Sans", sans-serif'  stroke="#1c1c1c" stroke-width="0.12">0</text>
<line x1="271.70" y1="83.10" x2="275.60" y2="83.10" stroke="#262626" stroke-width="0.95" />
<text x="270.60" y="85.61" font-size="7.0" text-anchor="end" font-weight="bold" fill="#1c1c1c" font-family='"Liberation Sans", sans-serif'  stroke="#1c1c1c" stroke-width="0.12">5</text>
<line x1="271.70" y1="63.10" x2="275.60" y2="63.10" stroke="#262626" stroke-width="0.95" />
<text x="270.60" y="65.61" font-size="7.0" text-anchor="end" font-weight="bold" fill="#1c1c1c" font-family='"Liberation Sans", sans-serif'  stroke="#1c1c1c" stroke-width="0.12">10</text>
<line x1="271.70" y1="43.10" x2="275.60" y2="43.10" stroke="#262626" stroke-width="0.95" />
<text x="270.60" y="45.61" font-size="7.0" text-anchor="end" font-weight="bold" fill="#1c1c1c" font-family='"Liberation Sans", sans-serif'  stroke="#1c1c1c" stroke-width="0.12">15</text>
<line x1="271.70" y1="23.10" x2="275.60" y2="23.10" stroke="#262626" stroke-width="0.95" />
<text x="270.60" y="25.61" font-size="7.0" text-anchor="end" font-weight="bold" fill="#1c1c1c" font-family='"Liberation Sans", sans-serif'  stroke="#1c1c1c" stroke-width="0.12">20</text>
<line x1="286.00" y1="107.30" x2="286.00" y2="110.80" stroke="#262626" stroke-width="0.95" />
<text x="286.00" y="117.86" font-size="6.6" text-anchor="middle" font-weight="bold" fill="#1c1c1c" font-family='"Liberation Sans", sans-serif'  stroke="#1c1c1c" stroke-width="0.12">0</text>
<line x1="337.90" y1="107.30" x2="337.90" y2="110.80" stroke="#262626" stroke-width="0.95" />
<text x="337.90" y="117.86" font-size="6.6" text-anchor="middle" font-weight="bold" fill="#1c1c1c" font-family='"Liberation Sans", sans-serif'  stroke="#1c1c1c" stroke-width="0.12">100</text>
<line x1="389.80" y1="107.30" x2="389.80" y2="110.80" stroke="#262626" stroke-width="0.95" />
<text x="389.80" y="117.86" font-size="6.6" text-anchor="middle" font-weight="bold" fill="#1c1c1c" font-family='"Liberation Sans", sans-serif'  stroke="#1c1c1c" stroke-width="0.12">200</text>
<text x="342.50" y="126.73" font-size="6.8" text-anchor="middle" font-weight="bold" fill="#1c1c1c" font-family='"Liberation Sans", sans-serif'  stroke="#1c1c1c" stroke-width="0.12">Time (s)</text>
<text transform="translate(256.50,62.00) rotate(-90)" x="0" y="2.47" font-size="6.9" text-anchor="middle" font-weight="bold" fill="#1c1c1c" font-family='"Liberation Sans", sans-serif'  stroke="#1c1c1c" stroke-width="0.12">Relative Response</text>
<text x="425.50" y="24.53" font-size="6.8" text-anchor="start" font-weight="bold" fill="#1c1c1c" font-family='"Liberation Sans", sans-serif'  stroke="#1c1c1c" stroke-width="0.05">[pAp] nM</text>
<line x1="424.70" y1="24.70" x2="456.00" y2="24.70" stroke="#9a9a9a" stroke-width="0.5" />
<line x1="425.30" y1="32.90" x2="435.10" y2="32.90" stroke="#c99be6" stroke-width="1.15" />
<text x="440.20" y="35.62" font-size="7.6" text-anchor="start" font-weight="normal" fill="#222" font-family='"Liberation Sans", sans-serif'  stroke="#222" stroke-width="0.1">100</text>
<line x1="425.30" y1="45.04" x2="435.10" y2="45.04" stroke="#cdb66c" stroke-width="1.15" />
<text x="440.20" y="47.76" font-size="7.6" text-anchor="start" font-weight="normal" fill="#222" font-family='"Liberation Sans", sans-serif'  stroke="#222" stroke-width="0.1">50</text>
<line x1="425.30" y1="57.18" x2="435.10" y2="57.18" stroke="#ea74bd" stroke-width="1.15" />
<text x="440.20" y="59.90" font-size="7.6" text-anchor="start" font-weight="normal" fill="#222" font-family='"Liberation Sans", sans-serif'  stroke="#222" stroke-width="0.1">25</text>
<line x1="425.30" y1="69.32" x2="435.10" y2="69.32" stroke="#72d672" stroke-width="1.15" />
<text x="440.20" y="72.04" font-size="7.6" text-anchor="start" font-weight="normal" fill="#222" font-family='"Liberation Sans", sans-serif'  stroke="#222" stroke-width="0.1">12.5</text>
<line x1="425.30" y1="81.46" x2="435.10" y2="81.46" stroke="#eda645" stroke-width="1.15" />
<text x="440.20" y="84.18" font-size="7.6" text-anchor="start" font-weight="normal" fill="#222" font-family='"Liberation Sans", sans-serif'  stroke="#222" stroke-width="0.1">6.25</text>
<line x1="425.30" y1="93.60" x2="435.10" y2="93.60" stroke="#92c4ee" stroke-width="1.15" />
<text x="440.20" y="96.32" font-size="7.6" text-anchor="start" font-weight="normal" fill="#222" font-family='"Liberation Sans", sans-serif'  stroke="#222" stroke-width="0.1">3.13</text>
<text x="461.20" y="9.70" font-size="12" text-anchor="start" font-weight="normal" fill="#1c1c1c" font-family='"Liberation Sans", sans-serif'  stroke="#1c1c1c" stroke-width="0.12">d)</text>
<text x="478.90" y="17.96" font-size="6.6" text-anchor="start" font-weight="bold" fill="#1c1c1c" font-family='"Liberation Sans", sans-serif'  stroke="#1c1c1c" stroke-width="0.12">RU</text>
<line x1="523.20" y1="98.20" x2="523.20" y2="108.00" stroke="#d6df4e" stroke-width="1.1" />
<polyline points="502.59,98.20 507.74,98.20 512.89,98.20 518.05,98.20 523.20,98.20 523.20,98.20 523.79,93.40 524.39,88.98 524.98,84.93 525.58,81.20 526.17,77.95 526.76,75.01 527.36,72.32 527.95,69.86 528.55,67.61 529.14,65.55 529.73,63.67 530.33,61.94 530.92,60.37 531.52,58.92 532.11,57.60 532.70,56.40 533.30,55.29 533.89,54.28 534.49,53.36 535.08,52.51 535.67,51.74 536.27,51.03 536.86,50.39 537.46,49.79 538.05,49.25 538.64,48.76 539.24,48.30 539.83,47.89 540.43,47.51 541.02,47.16 541.61,46.85 542.21,46.56 542.80,46.29 543.40,46.05 543.99,45.83 544.58,45.62 545.18,45.44 545.77,45.27 546.37,45.11 546.96,44.97 547.55,44.84 548.15,44.72 548.74,44.61 549.34,44.51 549.93,44.42 550.52,44.33 551.12,44.26 551.71,44.19 552.31,44.12 552.90,44.07 553.49,44.01 554.09,43.96 554.68,43.92 555.28,43.88 555.87,43.84 556.46,43.81 557.06,43.77 557.65,43.75 558.25,43.72 558.25,43.72 559.36,34.81 560.48,37.65 561.60,40.05 562.72,42.09 563.83,43.85 564.95,45.39 566.07,46.74 567.18,47.95 568.30,49.05 569.42,50.05 570.54,50.98 571.65,51.84 572.77,52.66 573.89,53.43 575.01,54.16 576.12,54.87 577.24,55.55 578.36,56.21 579.48,56.84 580.59,57.46 581.71,58.07 582.83,58.66 583.95,59.24 585.06,59.81 586.18,60.36 587.30,60.91 588.42,61.44 589.53,61.97 590.65,62.49 591.77,63.00 592.88,63.50 594.00,63.99 595.12,64.47 596.24,64.95 597.35,65.42 598.47,65.88 599.59,66.33 600.71,66.78 601.82,67.22 602.94,67.65 604.06,68.08 605.18,68.50 606.29,68.92 607.41,69.32 608.53,69.72 609.65,70.12 610.76,70.51 611.88,70.89 613.00,71.27 614.12,71.64 615.23,72.01 616.35,72.37 617.47,72.73 618.58,73.08 619.70,73.43 620.82,73.77 621.94,74.10 623.05,74.43 624.17,74.76 625.29,75.08 626.41,75.39 627.52,75.71 628.64,76.01 629.76,76.32 630.88,76.61 631.99,76.91 633.11,77.20 634.23,77.48 635.35,77.76" fill="none" stroke="#d6df4e" stroke-width="0.85" stroke-linejoin="round" />
<polyline points="502.59,98.20 507.74,98.20 512.89,98.20 518.05,98.20 523.20,98.20 523.20,98.20 523.79,94.89 524.39,91.85 524.98,89.07 525.58,86.53 526.17,84.02 526.76,81.67 527.36,79.51 527.95,77.52 528.55,75.68 529.14,73.99 529.73,72.43 530.33,70.99 530.92,69.67 531.52,68.44 532.11,67.32 532.70,66.28 533.30,65.33 533.89,64.44 534.49,63.63 535.08,62.88 535.67,62.19 536.27,61.56 536.86,60.97 537.46,60.43 538.05,59.94 538.64,59.48 539.24,59.05 539.83,58.67 540.43,58.31 541.02,57.98 541.61,57.67 542.21,57.39 542.80,57.13 543.40,56.89 543.99,56.67 544.58,56.47 545.18,56.28 545.77,56.11 546.37,55.95 546.96,55.80 547.55,55.67 548.15,55.55 548.74,55.43 549.34,55.33 549.93,55.23 550.52,55.14 551.12,55.06 551.71,54.98 552.31,54.91 552.90,54.85 553.49,54.79 554.09,54.73 554.68,54.68 555.28,54.63 555.87,54.59 556.46,54.55 557.06,54.51 557.65,54.48 558.25,54.45 558.25,54.45 559.36,55.53 560.48,56.50 561.60,57.39 562.72,58.21 563.83,58.97 564.95,59.69 566.07,60.37 567.18,61.03 568.30,61.66 569.42,62.27 570.54,62.86 571.65,63.44 572.77,64.00 573.89,64.55 575.01,65.09 576.12,65.62 577.24,66.14 578.36,66.65 579.48,67.15 580.59,67.64 581.71,68.13 582.83,68.61 583.95,69.08 585.06,69.54 586.18,69.99 587.30,70.44 588.42,70.88 589.53,71.31 590.65,71.74 591.77,72.16 592.88,72.58 594.00,72.98 595.12,73.39 596.24,73.78 597.35,74.17 598.47,74.55 599.59,74.93 600.71,75.30 601.82,75.67 602.94,76.03 604.06,76.38 605.18,76.73 606.29,77.07 607.41,77.41 608.53,77.75 609.65,78.07 610.76,78.40 611.88,78.72 613.00,79.03 614.12,79.34 615.23,79.64 616.35,79.94 617.47,80.23 618.58,80.52 619.70,80.81 620.82,81.09 621.94,81.37 623.05,81.64 624.17,81.91 625.29,82.17 626.41,82.43 627.52,82.69 628.64,82.94 629.76,83.19 630.88,83.43 631.99,83.67 633.11,83.91 634.23,84.14 635.35,84.37" fill="none" stroke="#c99be6" stroke-width="0.85" stroke-linejoin="round" />
<polyline points="502.59,98.20 507.74,98.20 512.89,98.20 518.05,98.20 523.20,98.20 523.20,98.20 523.79,97.07 524.39,95.98 524.98,94.95 525.58,93.96 526.17,92.83 526.76,91.71 527.36,90.63 527.95,89.59 528.55,88.59 529.14,87.62 529.73,86.69 530.33,85.79 530.92,84.93 531.52,84.10 532.11,83.30 532.70,82.52 533.30,81.78 533.89,81.06 534.49,80.37 535.08,79.70 535.67,79.06 536.27,78.44 536.86,77.84 537.46,77.27 538.05,76.72 538.64,76.18 539.24,75.67 539.83,75.17 540.43,74.70 541.02,74.24 541.61,73.79 542.21,73.37 542.80,72.95 543.40,72.56 543.99,72.18 544.58,71.81 545.18,71.45 545.77,71.11 546.37,70.78 546.96,70.46 547.55,70.16 548.15,69.86 548.74,69.58 549.34,69.31 549.93,69.04 550.52,68.79 551.12,68.54 551.71,68.31 552.31,68.08 552.90,67.86 553.49,67.65 554.09,67.45 554.68,67.25 555.28,67.06 555.87,66.88 556.46,66.70 557.06,66.54 557.65,66.37 558.25,66.22 558.25,66.22 559.36,66.81 560.48,67.36 561.60,67.87 562.72,68.34 563.83,68.79 564.95,69.22 566.07,69.63 567.18,70.03 568.30,70.42 569.42,70.79 570.54,71.16 571.65,71.52 572.77,71.87 573.89,72.22 575.01,72.56 576.12,72.90 577.24,73.23 578.36,73.56 579.48,73.88 580.59,74.20 581.71,74.51 582.83,74.82 583.95,75.13 585.06,75.43 586.18,75.73 587.30,76.02 588.42,76.31 589.53,76.60 590.65,76.88 591.77,77.16 592.88,77.44 594.00,77.71 595.12,77.98 596.24,78.24 597.35,78.51 598.47,78.76 599.59,79.02 600.71,79.27 601.82,79.52 602.94,79.77 604.06,80.01 605.18,80.25 606.29,80.49 607.41,80.72 608.53,80.95 609.65,81.18 610.76,81.41 611.88,81.63 613.00,81.85 614.12,82.06 615.23,82.28 616.35,82.49 617.47,82.70 618.58,82.90 619.70,83.11 620.82,83.31 621.94,83.51 623.05,83.70 624.17,83.90 625.29,84.09 626.41,84.28 627.52,84.46 628.64,84.65 629.76,84.83 630.88,85.01 631.99,85.19 633.11,85.36 634.23,85.53 635.35,85.70" fill="none" stroke="#cdb66c" stroke-width="0.85" stroke-linejoin="round" />
<polyline points="502.59,98.20 507.74,98.20 512.89,98.20 518.05,98.20 523.20,98.20 523.20,98.20 523.79,97.19 524.39,96.21 524.98,95.25 525.58,94.32 526.17,93.59 526.76,92.92 527.36,92.28 527.95,91.65 528.55,91.05 529.14,90.46 529.73,89.90 530.33,89.35 530.92,88.83 531.52,88.32 532.11,87.83 532.70,87.35 533.30,86.89 533.89,86.45 534.49,86.02 535.08,85.60 535.67,85.20 536.27,84.82 536.86,84.44 537.46,84.08 538.05,83.73 538.64,83.39 539.24,83.07 539.83,82.75 540.43,82.44 541.02,82.15 541.61,81.86 542.21,81.59 542.80,81.32 543.40,81.07 543.99,80.82 544.58,80.58 545.18,80.34 545.77,80.12 546.37,79.90 546.96,79.69 547.55,79.49 548.15,79.30 548.74,79.11 549.34,78.92 549.93,78.75 550.52,78.58 551.12,78.41 551.71,78.25 552.31,78.10 552.90,77.95 553.49,77.80 554.09,77.67 554.68,77.53 555.28,77.40 555.87,77.28 556.46,77.15 557.06,77.04 557.65,76.92 558.25,76.81 558.25,76.81 559.36,77.00 560.48,77.19 561.60,77.38 562.72,77.57 563.83,77.75 564.95,77.93 566.07,78.11 567.18,78.29 568.30,78.47 569.42,78.65 570.54,78.82 571.65,78.99 572.77,79.16 573.89,79.33 575.01,79.50 576.12,79.67 577.24,79.83 578.36,79.99 579.48,80.15 580.59,80.31 581.71,80.47 582.83,80.63 583.95,80.79 585.06,80.94 586.18,81.09 587.30,81.24 588.42,81.39 589.53,81.54 590.65,81.69 591.77,81.83 592.88,81.98 594.00,82.12 595.12,82.26 596.24,82.40 597.35,82.54 598.47,82.68 599.59,82.82 600.71,82.95 601.82,83.09 602.94,83.22 604.06,83.35 605.18,83.48 606.29,83.61 607.41,83.74 608.53,83.86 609.65,83.99 610.76,84.11 611.88,84.24 613.00,84.36 614.12,84.48 615.23,84.60 616.35,84.72 617.47,84.83 618.58,84.95 619.70,85.06 620.82,85.18 621.94,85.29 623.05,85.40 624.17,85.51 625.29,85.62 626.41,85.73 627.52,85.84 628.64,85.95 629.76,86.05 630.88,86.16 631.99,86.26 633.11,86.37 634.23,86.47 635.35,86.57" fill="none" stroke="#ea74bd" stroke-width="0.85" stroke-linejoin="round" />
<polyline points="502.59,98.20 507.74,98.20 512.89,98.20 518.05,98.20 523.20,98.20 523.20,98.20 523.79,97.52 524.39,96.85 524.98,96.19 525.58,95.55 526.17,95.11 526.76,94.71 527.36,94.32 527.95,93.95 528.55,93.59 529.14,93.24 529.73,92.90 530.33,92.58 530.92,92.26 531.52,91.95 532.11,91.66 532.70,91.37 533.30,91.09 533.89,90.82 534.49,90.56 535.08,90.31 535.67,90.07 536.27,89.83 536.86,89.60 537.46,89.38 538.05,89.17 538.64,88.96 539.24,88.76 539.83,88.57 540.43,88.38 541.02,88.20 541.61,88.02 542.21,87.85 542.80,87.69 543.40,87.53 543.99,87.38 544.58,87.23 545.18,87.08 545.77,86.94 546.37,86.81 546.96,86.68 547.55,86.55 548.15,86.43 548.74,86.31 549.34,86.19 549.93,86.08 550.52,85.97 551.12,85.87 551.71,85.77 552.31,85.67 552.90,85.58 553.49,85.48 554.09,85.40 554.68,85.31 555.28,85.23 555.87,85.15 556.46,85.07 557.06,84.99 557.65,84.92 558.25,84.85 558.25,84.85 559.36,84.93 560.48,85.00 561.60,85.07 562.72,85.15 563.83,85.22 564.95,85.29 566.07,85.37 567.18,85.44 568.30,85.51 569.42,85.58 570.54,85.65 571.65,85.72 572.77,85.79 573.89,85.86 575.01,85.93 576.12,86.00 577.24,86.06 578.36,86.13 579.48,86.20 580.59,86.26 581.71,86.33 582.83,86.40 583.95,86.46 585.06,86.53 586.18,86.59 587.30,86.66 588.42,86.72 589.53,86.78 590.65,86.85 591.77,86.91 592.88,86.97 594.00,87.04 595.12,87.10 596.24,87.16 597.35,87.22 598.47,87.28 599.59,87.34 600.71,87.40 601.82,87.46 602.94,87.52 604.06,87.58 605.18,87.64 606.29,87.69 607.41,87.75 608.53,87.81 609.65,87.87 610.76,87.92 611.88,87.98 613.00,88.04 614.12,88.09 615.23,88.15 616.35,88.20 617.47,88.26 618.58,88.31 619.70,88.36 620.82,88.42 621.94,88.47 623.05,88.53 624.17,88.58 625.29,88.63 626.41,88.68 627.52,88.73 628.64,88.79 629.76,88.84 630.88,88.89 631.99,88.94 633.11,88.99 634.23,89.04 635.35,89.09" fill="none" stroke="#72d672" stroke-width="0.85" stroke-linejoin="round" />
<polyline points="502.59,98.20 507.74,98.20 512.89,98.20 518.05,98.20 523.20,98.20 523.20,98.20 523.79,98.10 524.39,98.02 524.98,97.94 525.58,97.87 526.17,97.64 526.76,97.39 527.36,97.15 527.95,96.92 528.55,96.69 529.14,96.47 529.73,96.26 530.33,96.05 530.92,95.85 531.52,95.65 532.11,95.46 532.70,95.28 533.30,95.10 533.89,94.92 534.49,94.75 535.08,94.59 535.67,94.43 536.27,94.28 536.86,94.13 537.46,93.98 538.05,93.84 538.64,93.70 539.24,93.57 539.83,93.44 540.43,93.31 541.02,93.19 541.61,93.07 542.21,92.96 542.80,92.85 543.40,92.74 543.99,92.63 544.58,92.53 545.18,92.43 545.77,92.34 546.37,92.24 546.96,92.15 547.55,92.07 548.15,91.98 548.74,91.90 549.34,91.82 549.93,91.74 550.52,91.66 551.12,91.59 551.71,91.52 552.31,91.45 552.90,91.38 553.49,91.32 554.09,91.25 554.68,91.19 555.28,91.13 555.87,91.07 556.46,91.02 557.06,90.96 557.65,90.91 558.25,90.86 558.25,90.86 559.36,90.89 560.48,90.92 561.60,90.95 562.72,90.98 563.83,91.01 564.95,91.04 566.07,91.06 567.18,91.09 568.30,91.12 569.42,91.15 570.54,91.18 571.65,91.21 572.77,91.24 573.89,91.27 575.01,91.29 576.12,91.32 577.24,91.35 578.36,91.38 579.48,91.41 580.59,91.43 581.71,91.46 582.83,91.49 583.95,91.52 585.06,91.55 586.18,91.57 587.30,91.60 588.42,91.63 589.53,91.65 590.65,91.68 591.77,91.71 592.88,91.73 594.00,91.76 595.12,91.79 596.24,91.81 597.35,91.84 598.47,91.87 599.59,91.89 600.71,91.92 601.82,91.95 602.94,91.97 604.06,92.00 605.18,92.02 606.29,92.05 607.41,92.07 608.53,92.10 609.65,92.12 610.76,92.15 611.88,92.17 613.00,92.20 614.12,92.22 615.23,92.25 616.35,92.27 617.47,92.30 618.58,92.32 619.70,92.35 620.82,92.37 621.94,92.40 623.05,92.42 624.17,92.45 625.29,92.47 626.41,92.49 627.52,92.52 628.64,92.54 629.76,92.56 630.88,92.59 631.99,92.61 633.11,92.64 634.23,92.66 635.35,92.68" fill="none" stroke="#eda645" stroke-width="0.85" stroke-linejoin="round" />
<polyline points="502.59,98.20 507.74,98.20 512.89,98.20 518.05,98.20 523.20,98.20 523.20,98.20 523.79,98.19 524.39,98.19 524.98,98.20 525.58,98.21 526.17,98.06 526.76,97.89 527.36,97.72 527.95,97.56 528.55,97.41 529.14,97.25 529.73,97.11 530.33,96.96 530.92,96.82 531.52,96.69 532.11,96.56 532.70,96.43 533.30,96.31 533.89,96.19 534.49,96.07 535.08,95.96 535.67,95.85 536.27,95.74 536.86,95.64 537.46,95.53 538.05,95.44 538.64,95.34 539.24,95.25 539.83,95.16 540.43,95.07 541.02,94.99 541.61,94.91 542.21,94.83 542.80,94.75 543.40,94.68 543.99,94.61 544.58,94.54 545.18,94.47 545.77,94.40 546.37,94.34 546.96,94.27 547.55,94.21 548.15,94.15 548.74,94.10 549.34,94.04 549.93,93.99 550.52,93.94 551.12,93.88 551.71,93.84 552.31,93.79 552.90,93.74 553.49,93.70 554.09,93.65 554.68,93.61 555.28,93.57 555.87,93.53 556.46,93.49 557.06,93.45 557.65,93.41 558.25,93.38 558.25,93.38 559.36,93.41 560.48,93.43 561.60,93.46 562.72,93.48 563.83,93.51 564.95,93.53 566.07,93.56 567.18,93.58 568.30,93.61 569.42,93.63 570.54,93.66 571.65,93.68 572.77,93.71 573.89,93.73 575.01,93.75 576.12,93.78 577.24,93.80 578.36,93.83 579.48,93.85 580.59,93.87 581.71,93.90 582.83,93.92 583.95,93.94 585.06,93.97 586.18,93.99 587.30,94.01 588.42,94.04 589.53,94.06 590.65,94.08 591.77,94.11 592.88,94.13 594.00,94.15 595.12,94.17 596.24,94.19 597.35,94.22 598.47,94.24 599.59,94.26 600.71,94.28 601.82,94.30 602.94,94.33 604.06,94.35 605.18,94.37 606.29,94.39 607.41,94.41 608.53,94.43 609.65,94.45 610.76,94.47 611.88,94.50 613.00,94.52 614.12,94.54 615.23,94.56 616.35,94.58 617.47,94.60 618.58,94.62 619.70,94.64 620.82,94.66 621.94,94.68 623.05,94.70 624.17,94.72 625.29,94.74 626.41,94.76 627.52,94.78 628.64,94.80 629.76,94.82 630.88,94.83 631.99,94.85 633.11,94.87 634.23,94.89 635.35,94.91" fill="none" stroke="#92c4ee" stroke-width="0.85" stroke-linejoin="round" />
<polyline points="523.20,98.20 523.20,98.20 523.79,93.61 524.39,89.41 524.98,85.57 525.58,82.06 526.17,78.85 526.76,75.91 527.36,73.22 527.95,70.76 528.55,68.51 529.14,66.45 529.73,64.57 530.33,62.84 530.92,61.27 531.52,59.82 532.11,58.50 532.70,57.30 533.30,56.19 533.89,55.18 534.49,54.26 535.08,53.41 535.67,52.64 536.27,51.93 536.86,51.29 537.46,50.69 538.05,50.15 538.64,49.66 539.24,49.20 539.83,48.79 540.43,48.41 541.02,48.06 541.61,47.75 542.21,47.46 542.80,47.19 543.40,46.95 543.99,46.73 544.58,46.52 545.18,46.34 545.77,46.17 546.37,46.01 546.96,45.87 547.55,45.74 548.15,45.62 548.74,45.51 549.34,45.41 549.93,45.32 550.52,45.23 551.12,45.16 551.71,45.09 552.31,45.02 552.90,44.97 553.49,44.91 554.09,44.86 554.68,44.82 555.28,44.78 555.87,44.74 556.46,44.71 557.06,44.67 557.65,44.65 558.25,44.62 558.25,44.62 559.36,46.08 560.48,47.35 561.60,48.47 562.72,49.48 563.83,50.40 564.95,51.25 566.07,52.04 567.18,52.79 568.30,53.50 569.42,54.18 570.54,54.84 571.65,55.48 572.77,56.10 573.89,56.70 575.01,57.29 576.12,57.87 577.24,58.44 578.36,59.00 579.48,59.55 580.59,60.09 581.71,60.62 582.83,61.14 583.95,61.66 585.06,62.16 586.18,62.66 587.30,63.16 588.42,63.64 589.53,64.12 590.65,64.59 591.77,65.06 592.88,65.52 594.00,65.97 595.12,66.42 596.24,66.86 597.35,67.29 598.47,67.72 599.59,68.15 600.71,68.56 601.82,68.97 602.94,69.38 604.06,69.78 605.18,70.17 606.29,70.56 607.41,70.94 608.53,71.32 609.65,71.69 610.76,72.06 611.88,72.42 613.00,72.78 614.12,73.13 615.23,73.48 616.35,73.82 617.47,74.16 618.58,74.49 619.70,74.82 620.82,75.15 621.94,75.46 623.05,75.78 624.17,76.09 625.29,76.40 626.41,76.70 627.52,77.00 628.64,77.29 629.76,77.58 630.88,77.87 631.99,78.15 633.11,78.43 634.23,78.70 635.35,78.97" fill="none" stroke="#222" stroke-width="0.9" stroke-linejoin="round" />
<line x1="557.85" y1="41.62" x2="557.85" y2="47.62" stroke="#34434e" stroke-width="0.85" />
<line x1="559.85" y1="41.62" x2="559.85" y2="47.62" stroke="#34434e" stroke-width="0.85" />
<line x1="557.05" y1="45.32" x2="560.65" y2="43.92" stroke="#34434e" stroke-width="1.5" />
<polyline points="523.20,98.20 523.20,98.20 523.79,94.67 524.39,91.42 524.98,88.42 525.58,85.66 526.17,83.12 526.76,80.77 527.36,78.61 527.95,76.62 528.55,74.78 529.14,73.09 529.73,71.53 530.33,70.09 530.92,68.77 531.52,67.54 532.11,66.42 532.70,65.38 533.30,64.43 533.89,63.54 534.49,62.73 535.08,61.98 535.67,61.29 536.27,60.66 536.86,60.07 537.46,59.53 538.05,59.04 538.64,58.58 539.24,58.15 539.83,57.77 540.43,57.41 541.02,57.08 541.61,56.77 542.21,56.49 542.80,56.23 543.40,55.99 543.99,55.77 544.58,55.57 545.18,55.38 545.77,55.21 546.37,55.05 546.96,54.90 547.55,54.77 548.15,54.65 548.74,54.53 549.34,54.43 549.93,54.33 550.52,54.24 551.12,54.16 551.71,54.08 552.31,54.01 552.90,53.95 553.49,53.89 554.09,53.83 554.68,53.78 555.28,53.73 555.87,53.69 556.46,53.65 557.06,53.61 557.65,53.58 558.25,53.55 558.25,53.55 559.36,54.63 560.48,55.60 561.60,56.49 562.72,57.31 563.83,58.07 564.95,58.79 566.07,59.47 567.18,60.13 568.30,60.76 569.42,61.37 570.54,61.96 571.65,62.54 572.77,63.10 573.89,63.65 575.01,64.19 576.12,64.72 577.24,65.24 578.36,65.75 579.48,66.25 580.59,66.74 581.71,67.23 582.83,67.71 583.95,68.18 585.06,68.64 586.18,69.09 587.30,69.54 588.42,69.98 589.53,70.41 590.65,70.84 591.77,71.26 592.88,71.68 594.00,72.08 595.12,72.49 596.24,72.88 597.35,73.27 598.47,73.65 599.59,74.03 600.71,74.40 601.82,74.77 602.94,75.13 604.06,75.48 605.18,75.83 606.29,76.17 607.41,76.51 608.53,76.85 609.65,77.17 610.76,77.50 611.88,77.82 613.00,78.13 614.12,78.44 615.23,78.74 616.35,79.04 617.47,79.33 618.58,79.62 619.70,79.91 620.82,80.19 621.94,80.47 623.05,80.74 624.17,81.01 625.29,81.27 626.41,81.53 627.52,81.79 628.64,82.04 629.76,82.29 630.88,82.53 631.99,82.77 633.11,83.01 634.23,83.24 635.35,83.47" fill="none" stroke="#222" stroke-width="0.9" stroke-linejoin="round" />
<line x1="557.85" y1="50.55" x2="557.85" y2="56.55" stroke="#34434e" stroke-width="0.85" />
<line x1="559.85" y1="50.55" x2="559.85" y2="56.55" stroke="#34434e" stroke-width="0.85" />
<line x1="557.05" y1="54.25" x2="560.65" y2="52.85" stroke="#34434e" stroke-width="1.5" />
<polyline points="523.20,98.20 523.20,98.20 523.79,96.85 524.39,95.55 524.98,94.30 525.58,93.09 526.17,91.93 526.76,90.81 527.36,89.73 527.95,88.69 528.55,87.69 529.14,86.72 529.73,85.79 530.33,84.89 530.92,84.03 531.52,83.20 532.11,82.40 532.70,81.62 533.30,80.88 533.89,80.16 534.49,79.47 535.08,78.80 535.67,78.16 536.27,77.54 536.86,76.94 537.46,76.37 538.05,75.82 538.64,75.28 539.24,74.77 539.83,74.27 540.43,73.80 541.02,73.34 541.61,72.89 542.21,72.47 542.80,72.05 543.40,71.66 543.99,71.28 544.58,70.91 545.18,70.55 545.77,70.21 546.37,69.88 546.96,69.56 547.55,69.26 548.15,68.96 548.74,68.68 549.34,68.41 549.93,68.14 550.52,67.89 551.12,67.64 551.71,67.41 552.31,67.18 552.90,66.96 553.49,66.75 554.09,66.55 554.68,66.35 555.28,66.16 555.87,65.98 556.46,65.80 557.06,65.64 557.65,65.47 558.25,65.32 558.25,65.32 559.36,65.91 560.48,66.46 561.60,66.97 562.72,67.44 563.83,67.89 564.95,68.32 566.07,68.73 567.18,69.13 568.30,69.52 569.42,69.89 570.54,70.26 571.65,70.62 572.77,70.97 573.89,71.32 575.01,71.66 576.12,72.00 577.24,72.33 578.36,72.66 579.48,72.98 580.59,73.30 581.71,73.61 582.83,73.92 583.95,74.23 585.06,74.53 586.18,74.83 587.30,75.12 588.42,75.41 589.53,75.70 590.65,75.98 591.77,76.26 592.88,76.54 594.00,76.81 595.12,77.08 596.24,77.34 597.35,77.61 598.47,77.86 599.59,78.12 600.71,78.37 601.82,78.62 602.94,78.87 604.06,79.11 605.18,79.35 606.29,79.59 607.41,79.82 608.53,80.05 609.65,80.28 610.76,80.51 611.88,80.73 613.00,80.95 614.12,81.16 615.23,81.38 616.35,81.59 617.47,81.80 618.58,82.00 619.70,82.21 620.82,82.41 621.94,82.61 623.05,82.80 624.17,83.00 625.29,83.19 626.41,83.38 627.52,83.56 628.64,83.75 629.76,83.93 630.88,84.11 631.99,84.29 633.11,84.46 634.23,84.63 635.35,84.80" fill="none" stroke="#222" stroke-width="0.9" stroke-linejoin="round" />
<line x1="557.85" y1="62.32" x2="557.85" y2="68.32" stroke="#34434e" stroke-width="0.85" />
<line x1="559.85" y1="62.32" x2="559.85" y2="68.32" stroke="#34434e" stroke-width="0.85" />
<line x1="557.05" y1="66.02" x2="560.65" y2="64.62" stroke="#34434e" stroke-width="1.5" />
<polyline points="523.20,98.20 523.20,98.20 523.79,97.41 524.39,96.64 524.98,95.90 525.58,95.18 526.17,94.49 526.76,93.82 527.36,93.18 527.95,92.55 528.55,91.95 529.14,91.36 529.73,90.80 530.33,90.25 530.92,89.73 531.52,89.22 532.11,88.73 532.70,88.25 533.30,87.79 533.89,87.35 534.49,86.92 535.08,86.50 535.67,86.10 536.27,85.72 536.86,85.34 537.46,84.98 538.05,84.63 538.64,84.29 539.24,83.97 539.83,83.65 540.43,83.34 541.02,83.05 541.61,82.76 542.21,82.49 542.80,82.22 543.40,81.97 543.99,81.72 544.58,81.48 545.18,81.24 545.77,81.02 546.37,80.80 546.96,80.59 547.55,80.39 548.15,80.20 548.74,80.01 549.34,79.82 549.93,79.65 550.52,79.48 551.12,79.31 551.71,79.15 552.31,79.00 552.90,78.85 553.49,78.70 554.09,78.57 554.68,78.43 555.28,78.30 555.87,78.18 556.46,78.05 557.06,77.94 557.65,77.82 558.25,77.71 558.25,77.71 559.36,77.90 560.48,78.09 561.60,78.28 562.72,78.47 563.83,78.65 564.95,78.83 566.07,79.01 567.18,79.19 568.30,79.37 569.42,79.55 570.54,79.72 571.65,79.89 572.77,80.06 573.89,80.23 575.01,80.40 576.12,80.57 577.24,80.73 578.36,80.89 579.48,81.05 580.59,81.21 581.71,81.37 582.83,81.53 583.95,81.69 585.06,81.84 586.18,81.99 587.30,82.14 588.42,82.29 589.53,82.44 590.65,82.59 591.77,82.73 592.88,82.88 594.00,83.02 595.12,83.16 596.24,83.30 597.35,83.44 598.47,83.58 599.59,83.72 600.71,83.85 601.82,83.99 602.94,84.12 604.06,84.25 605.18,84.38 606.29,84.51 607.41,84.64 608.53,84.76 609.65,84.89 610.76,85.01 611.88,85.14 613.00,85.26 614.12,85.38 615.23,85.50 616.35,85.62 617.47,85.73 618.58,85.85 619.70,85.96 620.82,86.08 621.94,86.19 623.05,86.30 624.17,86.41 625.29,86.52 626.41,86.63 627.52,86.74 628.64,86.85 629.76,86.95 630.88,87.06 631.99,87.16 633.11,87.27 634.23,87.37 635.35,87.47" fill="none" stroke="#222" stroke-width="0.9" stroke-linejoin="round" />
<line x1="557.85" y1="74.71" x2="557.85" y2="80.71" stroke="#34434e" stroke-width="0.85" />
<line x1="559.85" y1="74.71" x2="559.85" y2="80.71" stroke="#34434e" stroke-width="0.85" />
<line x1="557.05" y1="78.41" x2="560.65" y2="77.01" stroke="#34434e" stroke-width="1.5" />
<polyline points="523.20,98.20 523.20,98.20 523.79,97.73 524.39,97.28 524.98,96.84 525.58,96.42 526.17,96.01 526.76,95.61 527.36,95.22 527.95,94.85 528.55,94.49 529.14,94.14 529.73,93.80 530.33,93.48 530.92,93.16 531.52,92.85 532.11,92.56 532.70,92.27 533.30,91.99 533.89,91.72 534.49,91.46 535.08,91.21 535.67,90.97 536.27,90.73 536.86,90.50 537.46,90.28 538.05,90.07 538.64,89.86 539.24,89.66 539.83,89.47 540.43,89.28 541.02,89.10 541.61,88.92 542.21,88.75 542.80,88.59 543.40,88.43 543.99,88.28 544.58,88.13 545.18,87.98 545.77,87.84 546.37,87.71 546.96,87.58 547.55,87.45 548.15,87.33 548.74,87.21 549.34,87.09 549.93,86.98 550.52,86.87 551.12,86.77 551.71,86.67 552.31,86.57 552.90,86.48 553.49,86.38 554.09,86.30 554.68,86.21 555.28,86.13 555.87,86.05 556.46,85.97 557.06,85.89 557.65,85.82 558.25,85.75 558.25,85.75 559.36,85.83 560.48,85.90 561.60,85.97 562.72,86.05 563.83,86.12 564.95,86.19 566.07,86.27 567.18,86.34 568.30,86.41 569.42,86.48 570.54,86.55 571.65,86.62 572.77,86.69 573.89,86.76 575.01,86.83 576.12,86.90 577.24,86.96 578.36,87.03 579.48,87.10 580.59,87.16 581.71,87.23 582.83,87.30 583.95,87.36 585.06,87.43 586.18,87.49 587.30,87.56 588.42,87.62 589.53,87.68 590.65,87.75 591.77,87.81 592.88,87.87 594.00,87.94 595.12,88.00 596.24,88.06 597.35,88.12 598.47,88.18 599.59,88.24 600.71,88.30 601.82,88.36 602.94,88.42 604.06,88.48 605.18,88.54 606.29,88.59 607.41,88.65 608.53,88.71 609.65,88.77 610.76,88.82 611.88,88.88 613.00,88.94 614.12,88.99 615.23,89.05 616.35,89.10 617.47,89.16 618.58,89.21 619.70,89.26 620.82,89.32 621.94,89.37 623.05,89.43 624.17,89.48 625.29,89.53 626.41,89.58 627.52,89.63 628.64,89.69 629.76,89.74 630.88,89.79 631.99,89.84 633.11,89.89 634.23,89.94 635.35,89.99" fill="none" stroke="#222" stroke-width="0.9" stroke-linejoin="round" />
<line x1="557.85" y1="82.75" x2="557.85" y2="88.75" stroke="#34434e" stroke-width="0.85" />
<line x1="559.85" y1="82.75" x2="559.85" y2="88.75" stroke="#34434e" stroke-width="0.85" />
<line x1="557.05" y1="86.45" x2="560.65" y2="85.05" stroke="#34434e" stroke-width="1.5" />
<polyline points="523.20,98.20 523.20,98.20 523.79,97.91 524.39,97.63 524.98,97.36 525.58,97.10 526.17,96.84 526.76,96.59 527.36,96.35 527.95,96.12 528.55,95.89 529.14,95.67 529.73,95.46 530.33,95.25 530.92,95.05 531.52,94.85 532.11,94.66 532.70,94.48 533.30,94.30 533.89,94.12 534.49,93.95 535.08,93.79 535.67,93.63 536.27,93.48 536.86,93.33 537.46,93.18 538.05,93.04 538.64,92.90 539.24,92.77 539.83,92.64 540.43,92.51 541.02,92.39 541.61,92.27 542.21,92.16 542.80,92.05 543.40,91.94 543.99,91.83 544.58,91.73 545.18,91.63 545.77,91.54 546.37,91.44 546.96,91.35 547.55,91.27 548.15,91.18 548.74,91.10 549.34,91.02 549.93,90.94 550.52,90.86 551.12,90.79 551.71,90.72 552.31,90.65 552.90,90.58 553.49,90.52 554.09,90.45 554.68,90.39 555.28,90.33 555.87,90.27 556.46,90.22 557.06,90.16 557.65,90.11 558.25,90.06 558.25,90.06 559.36,90.09 560.48,90.12 561.60,90.15 562.72,90.18 563.83,90.21 564.95,90.24 566.07,90.26 567.18,90.29 568.30,90.32 569.42,90.35 570.54,90.38 571.65,90.41 572.77,90.44 573.89,90.47 575.01,90.49 576.12,90.52 577.24,90.55 578.36,90.58 579.48,90.61 580.59,90.63 581.71,90.66 582.83,90.69 583.95,90.72 585.06,90.75 586.18,90.77 587.30,90.80 588.42,90.83 589.53,90.85 590.65,90.88 591.77,90.91 592.88,90.93 594.00,90.96 595.12,90.99 596.24,91.01 597.35,91.04 598.47,91.07 599.59,91.09 600.71,91.12 601.82,91.15 602.94,91.17 604.06,91.20 605.18,91.22 606.29,91.25 607.41,91.27 608.53,91.30 609.65,91.32 610.76,91.35 611.88,91.37 613.00,91.40 614.12,91.42 615.23,91.45 616.35,91.47 617.47,91.50 618.58,91.52 619.70,91.55 620.82,91.57 621.94,91.60 623.05,91.62 624.17,91.65 625.29,91.67 626.41,91.69 627.52,91.72 628.64,91.74 629.76,91.76 630.88,91.79 631.99,91.81 633.11,91.84 634.23,91.86 635.35,91.88" fill="none" stroke="#222" stroke-width="0.9" stroke-linejoin="round" />
<line x1="557.85" y1="87.06" x2="557.85" y2="93.06" stroke="#34434e" stroke-width="0.85" />
<line x1="559.85" y1="87.06" x2="559.85" y2="93.06" stroke="#34434e" stroke-width="0.85" />
<line x1="557.05" y1="90.76" x2="560.65" y2="89.36" stroke="#34434e" stroke-width="1.5" />
<polyline points="523.20,98.20 523.20,98.20 523.79,98.00 524.39,97.81 524.98,97.62 525.58,97.44 526.17,97.26 526.76,97.09 527.36,96.92 527.95,96.76 528.55,96.61 529.14,96.45 529.73,96.31 530.33,96.16 530.92,96.02 531.52,95.89 532.11,95.76 532.70,95.63 533.30,95.51 533.89,95.39 534.49,95.27 535.08,95.16 535.67,95.05 536.27,94.94 536.86,94.84 537.46,94.73 538.05,94.64 538.64,94.54 539.24,94.45 539.83,94.36 540.43,94.27 541.02,94.19 541.61,94.11 542.21,94.03 542.80,93.95 543.40,93.88 543.99,93.81 544.58,93.74 545.18,93.67 545.77,93.60 546.37,93.54 546.96,93.47 547.55,93.41 548.15,93.35 548.74,93.30 549.34,93.24 549.93,93.19 550.52,93.14 551.12,93.08 551.71,93.04 552.31,92.99 552.90,92.94 553.49,92.90 554.09,92.85 554.68,92.81 555.28,92.77 555.87,92.73 556.46,92.69 557.06,92.65 557.65,92.61 558.25,92.58 558.25,92.58 559.36,92.61 560.48,92.63 561.60,92.66 562.72,92.68 563.83,92.71 564.95,92.73 566.07,92.76 567.18,92.78 568.30,92.81 569.42,92.83 570.54,92.86 571.65,92.88 572.77,92.91 573.89,92.93 575.01,92.95 576.12,92.98 577.24,93.00 578.36,93.03 579.48,93.05 580.59,93.07 581.71,93.10 582.83,93.12 583.95,93.14 585.06,93.17 586.18,93.19 587.30,93.21 588.42,93.24 589.53,93.26 590.65,93.28 591.77,93.31 592.88,93.33 594.00,93.35 595.12,93.37 596.24,93.39 597.35,93.42 598.47,93.44 599.59,93.46 600.71,93.48 601.82,93.50 602.94,93.53 604.06,93.55 605.18,93.57 606.29,93.59 607.41,93.61 608.53,93.63 609.65,93.65 610.76,93.67 611.88,93.70 613.00,93.72 614.12,93.74 615.23,93.76 616.35,93.78 617.47,93.80 618.58,93.82 619.70,93.84 620.82,93.86 621.94,93.88 623.05,93.90 624.17,93.92 625.29,93.94 626.41,93.96 627.52,93.98 628.64,94.00 629.76,94.02 630.88,94.03 631.99,94.05 633.11,94.07 634.23,94.09 635.35,94.11" fill="none" stroke="#222" stroke-width="0.9" stroke-linejoin="round" />
<line x1="557.85" y1="89.58" x2="557.85" y2="95.58" stroke="#34434e" stroke-width="0.85" />
<line x1="559.85" y1="89.58" x2="559.85" y2="95.58" stroke="#34434e" stroke-width="0.85" />
<line x1="557.05" y1="93.28" x2="560.65" y2="91.88" stroke="#34434e" stroke-width="1.5" />
<line x1="502.40" y1="19.20" x2="502.40" y2="108.90" stroke="#262626" stroke-width="0.95" />
<line x1="501.90" y1="108.40" x2="646.60" y2="108.40" stroke="#262626" stroke-width="0.95" />
<line x1="498.50" y1="98.20" x2="502.40" y2="98.20" stroke="#262626" stroke-width="0.95" />
<text x="497.50" y="100.71" font-size="7.0" text-anchor="end" font-weight="bold" fill="#1c1c1c" font-family='"Liberation Sans", sans-serif'  stroke="#1c1c1c" stroke-width="0.12">0</text>
<line x1="498.50" y1="71.94" x2="502.40" y2="71.94" stroke="#262626" stroke-width="0.95" />
<text x="497.50" y="74.44" font-size="7.0" text-anchor="end" font-weight="bold" fill="#1c1c1c" font-family='"Liberation Sans", sans-serif'  stroke="#1c1c1c" stroke-width="0.12">5</text>
<line x1="498.50" y1="45.67" x2="502.40" y2="45.67" stroke="#262626" stroke-width="0.95" />
<text x="497.50" y="48.18" font-size="7.0" text-anchor="end" font-weight="bold" fill="#1c1c1c" font-family='"Liberation Sans", sans-serif'  stroke="#1c1c1c" stroke-width="0.12">10</text>
<line x1="498.50" y1="19.41" x2="502.40" y2="19.41" stroke="#262626" stroke-width="0.95" />
<text x="497.50" y="21.91" font-size="7.0" text-anchor="end" font-weight="bold" fill="#1c1c1c" font-family='"Liberation Sans", sans-serif'  stroke="#1c1c1c" stroke-width="0.12">15</text>
<line x1="523.20" y1="108.40" x2="523.20" y2="111.90" stroke="#262626" stroke-width="0.95" />
<text x="523.20" y="119.33" font-size="6.8" text-anchor="middle" font-weight="bold" fill="#1c1c1c" font-family='"Liberation Sans", sans-serif'  stroke="#1c1c1c" stroke-width="0.12">0</text>
<line x1="564.43" y1="108.40" x2="564.43" y2="111.90" stroke="#262626" stroke-width="0.95" />
<text x="564.43" y="119.33" font-size="6.8" text-anchor="middle" font-weight="bold" fill="#1c1c1c" font-family='"Liberation Sans", sans-serif'  stroke="#1c1c1c" stroke-width="0.12">100</text>
<line x1="605.66" y1="108.40" x2="605.66" y2="111.90" stroke="#262626" stroke-width="0.95" />
<text x="605.66" y="119.33" font-size="6.8" text-anchor="middle" font-weight="bold" fill="#1c1c1c" font-family='"Liberation Sans", sans-serif'  stroke="#1c1c1c" stroke-width="0.12">200</text>
<line x1="646.89" y1="108.40" x2="646.89" y2="111.90" stroke="#262626" stroke-width="0.95" />
<text x="646.89" y="119.33" font-size="6.8" text-anchor="middle" font-weight="bold" fill="#1c1c1c" font-family='"Liberation Sans", sans-serif'  stroke="#1c1c1c" stroke-width="0.12">300</text>
<text x="572.50" y="128.54" font-size="7.1" text-anchor="middle" font-weight="bold" fill="#1c1c1c" font-family='"Liberation Sans", sans-serif'  stroke="#1c1c1c" stroke-width="0.12">Time (s)</text>
<text transform="translate(481.20,61.40) rotate(-90)" x="0" y="2.49" font-size="6.95" text-anchor="middle" font-weight="bold" fill="#1c1c1c" font-family='"Liberation Sans", sans-serif'  stroke="#1c1c1c" stroke-width="0.12">Relative Response</text>
<text x="652.00" y="19.51" font-size="7.0" text-anchor="start" font-weight="bold" fill="#1c1c1c" font-family='"Liberation Sans", sans-serif'  stroke="#1c1c1c" stroke-width="0.05">[pAp] nM</text>
<line x1="651.20" y1="19.60" x2="682.50" y2="19.60" stroke="#9a9a9a" stroke-width="0.5" />
<line x1="651.80" y1="29.10" x2="661.60" y2="29.10" stroke="#d6df4e" stroke-width="1.15" />
<text x="666.70" y="31.93" font-size="7.9" text-anchor="start" font-weight="normal" fill="#222" font-family='"Liberation Sans", sans-serif'  stroke="#222" stroke-width="0.1">200</text>
<line x1="651.80" y1="41.92" x2="661.60" y2="41.92" stroke="#c99be6" stroke-width="1.15" />
<text x="666.70" y="44.75" font-size="7.9" text-anchor="start" font-weight="normal" fill="#222" font-family='"Liberation Sans", sans-serif'  stroke="#222" stroke-width="0.1">100</text>
<line x1="651.80" y1="54.74" x2="661.60" y2="54.74" stroke="#cdb66c" stroke-width="1.15" />
<text x="666.70" y="57.57" font-size="7.9" text-anchor="start" font-weight="normal" fill="#222" font-family='"Liberation Sans", sans-serif'  stroke="#222" stroke-width="0.1">50</text>
<line x1="651.80" y1="67.56" x2="661.60" y2="67.56" stroke="#ea74bd" stroke-width="1.15" />
<text x="666.70" y="70.39" font-size="7.9" text-anchor="start" font-weight="normal" fill="#222" font-family='"Liberation Sans", sans-serif'  stroke="#222" stroke-width="0.1">25</text>
<line x1="651.80" y1="80.38" x2="661.60" y2="80.38" stroke="#72d672" stroke-width="1.15" />
<text x="666.70" y="83.21" font-size="7.9" text-anchor="start" font-weight="normal" fill="#222" font-family='"Liberation Sans", sans-serif'  stroke="#222" stroke-width="0.1">12.5</text>
<line x1="651.80" y1="93.20" x2="661.60" y2="93.20" stroke="#eda645" stroke-width="1.15" />
<text x="666.70" y="96.03" font-size="7.9" text-anchor="start" font-weight="normal" fill="#222" font-family='"Liberation Sans", sans-serif'  stroke="#222" stroke-width="0.1">6.25</text>
<line x1="651.80" y1="106.02" x2="661.60" y2="106.02" stroke="#92c4ee" stroke-width="1.15" />
<text x="666.70" y="108.85" font-size="7.9" text-anchor="start" font-weight="normal" fill="#222" font-family='"Liberation Sans", sans-serif'  stroke="#222" stroke-width="0.1">3.13</text>
<text x="10.20" y="145.80" font-size="12" text-anchor="start" font-weight="normal" fill="#1c1c1c" font-family='"Liberation Sans", sans-serif'  stroke="#1c1c1c" stroke-width="0.12">e)</text>
<text x="25.40" y="154.39" font-size="6.4" text-anchor="start" font-weight="bold" fill="#1c1c1c" font-family='"Liberation Sans", sans-serif'  stroke="#1c1c1c" stroke-width="0.12">RU</text>
<polyline points="48.65,223.90 71.25,223.90 71.61,232.28 72.61,231.27 72.61,231.27 76.67,231.46 80.74,231.64 84.81,231.83 88.88,232.01 92.95,232.20 97.01,232.39 101.08,232.57 105.15,232.76 109.22,232.95 112.83,224.91 115.30,224.79 117.76,224.69 120.22,224.60 122.68,224.52 125.15,224.45 127.61,224.38 130.07,224.32 132.53,224.26 135.00,224.21 137.46,224.17 139.92,224.13 142.39,224.09 144.85,224.06 147.31,224.03 149.77,224.00 152.24,223.97 154.70,223.95 157.16,223.93 159.62,223.91 162.09,223.89 164.55,223.88 167.01,223.87 169.47,223.85 171.94,223.84 174.40,223.83 176.86,223.82 179.32,223.81 181.79,223.81 184.25,223.80" fill="none" stroke="#c2a060" stroke-width="0.85" stroke-linejoin="round" />
<polyline points="48.65,223.90 71.25,223.90 71.61,232.28 72.61,229.59 72.61,229.59 76.67,229.78 80.74,229.97 84.81,230.15 88.88,230.34 92.95,230.53 97.01,230.71 101.08,230.90 105.15,231.08 109.22,231.27 112.83,225.58 115.30,225.42 117.76,225.27 120.22,225.14 122.68,225.03 125.15,224.92 127.61,224.82 130.07,224.74 132.53,224.66 135.00,224.59 137.46,224.52 139.92,224.46 142.39,224.41 144.85,224.36 147.31,224.32 149.77,224.28 152.24,224.24 154.70,224.21 157.16,224.18 159.62,224.16 162.09,224.13 164.55,224.11 167.01,224.09 169.47,224.07 171.94,224.06 174.40,224.04 176.86,224.03 179.32,224.02 181.79,224.00 184.25,223.99" fill="none" stroke="#b98ad8" stroke-width="0.85" stroke-linejoin="round" />
<polyline points="48.65,223.90 71.25,223.90 71.61,232.28 72.61,230.27 72.61,230.27 76.67,230.43 80.74,230.60 84.81,230.77 88.88,230.94 92.95,231.10 97.01,231.27 101.08,231.44 105.15,231.61 109.22,231.77 112.83,226.91 115.30,226.65 117.76,226.40 120.22,226.18 122.68,225.98 125.15,225.80 127.61,225.64 130.07,225.49 132.53,225.36 135.00,225.24 137.46,225.12 139.92,225.03 142.39,224.93 144.85,224.85 147.31,224.78 149.77,224.71 152.24,224.65 154.70,224.60 157.16,224.55 159.62,224.50 162.09,224.46 164.55,224.42 167.01,224.39 169.47,224.36 171.94,224.33 174.40,224.31 176.86,224.28 179.32,224.26 181.79,224.25 184.25,224.23" fill="none" stroke="#6ccc6c" stroke-width="0.85" stroke-linejoin="round" />
<polyline points="48.65,223.90 71.25,223.90 71.61,232.28 72.61,230.94 72.61,230.94 76.67,231.20 80.74,231.46 84.81,231.72 88.88,231.98 92.95,232.24 97.01,232.50 101.08,232.76 105.15,233.02 109.22,233.28 112.83,226.25 115.30,226.06 117.76,225.88 120.22,225.73 122.68,225.59 125.15,225.46 127.61,225.34 130.07,225.24 132.53,225.14 135.00,225.06 137.46,224.98 139.92,224.91 142.39,224.85 144.85,224.79 147.31,224.74 149.77,224.69 152.24,224.65 154.70,224.61 157.16,224.57 159.62,224.54 162.09,224.51 164.55,224.49 167.01,224.46 169.47,224.44 171.94,224.42 174.40,224.40 176.86,224.39 179.32,224.37 181.79,224.36 184.25,224.35" fill="none" stroke="#e2559a" stroke-width="0.85" stroke-linejoin="round" />
<polyline points="48.65,223.90 71.25,223.90 71.61,232.28 72.61,229.26 72.61,229.26 76.67,229.37 80.74,229.48 84.81,229.59 88.88,229.71 92.95,229.82 97.01,229.93 101.08,230.04 105.15,230.15 109.22,230.27 112.83,224.91 115.30,224.79 117.76,224.69 120.22,224.60 122.68,224.52 125.15,224.45 127.61,224.38 130.07,224.32 132.53,224.26 135.00,224.21 137.46,224.17 139.92,224.13 142.39,224.09 144.85,224.06 147.31,224.03 149.77,224.00 152.24,223.97 154.70,223.95 157.16,223.93 159.62,223.91 162.09,223.89 164.55,223.88 167.01,223.87 169.47,223.85 171.94,223.84 174.40,223.83 176.86,223.82 179.32,223.81 181.79,223.81 184.25,223.80" fill="none" stroke="#ee9a6a" stroke-width="0.85" stroke-linejoin="round" />
<polyline points="48.65,223.90 71.25,223.90 71.61,232.28 72.61,227.92 72.61,227.92 76.67,228.03 80.74,228.14 84.81,228.25 88.88,228.37 92.95,228.48 97.01,228.59 101.08,228.70 105.15,228.81 109.22,228.93 112.83,225.58 115.30,225.42 117.76,225.27 120.22,225.14 122.68,225.03 125.15,224.92 127.61,224.82 130.07,224.74 132.53,224.66 135.00,224.59 137.46,224.52 139.92,224.46 142.39,224.41 144.85,224.36 147.31,224.32 149.77,224.28 152.24,224.24 154.70,224.21 157.16,224.18 159.62,224.16 162.09,224.13 164.55,224.11 167.01,224.09 169.47,224.07 171.94,224.06 174.40,224.04 176.86,224.03 179.32,224.02 181.79,224.00 184.25,223.99" fill="none" stroke="#5f8fd8" stroke-width="0.85" stroke-linejoin="round" />
<polyline points="48.65,223.90 71.25,223.90 71.61,232.28 72.61,225.91 72.61,225.91 76.67,225.89 80.74,225.87 84.81,225.85 88.88,225.84 92.95,225.82 97.01,225.80 101.08,225.78 105.15,225.76 109.22,225.74 112.83,225.07 115.30,224.96 117.76,224.86 120.22,224.77 122.68,224.69 125.15,224.61 127.61,224.55 130.07,224.49 132.53,224.43 135.00,224.38 137.46,224.34 139.92,224.29 142.39,224.26 144.85,224.22 147.31,224.19 149.77,224.17 152.24,224.14 154.70,224.12 157.16,224.10 159.62,224.08 162.09,224.06 164.55,224.05 167.01,224.03 169.47,224.02 171.94,224.01 174.40,224.00 176.86,223.99 179.32,223.98 181.79,223.97 184.25,223.97" fill="none" stroke="#e65a6e" stroke-width="0.85" stroke-linejoin="round" />
<polyline points="48.65,223.90 71.25,223.90 71.61,232.28 72.61,223.06 72.61,223.06 76.67,222.93 80.74,222.80 84.81,222.67 88.88,222.54 92.95,222.41 97.01,222.28 101.08,222.15 105.15,222.02 109.22,221.89 112.83,222.90 115.30,222.93 117.76,222.96 120.22,222.98 122.68,223.00 125.15,223.03 127.61,223.05 130.07,223.06 132.53,223.08 135.00,223.09 137.46,223.11 139.92,223.12 142.39,223.13 144.85,223.14 147.31,223.15 149.77,223.15 152.24,223.16 154.70,223.17 157.16,223.17 159.62,223.18 162.09,223.18 164.55,223.19 167.01,223.19 169.47,223.20 171.94,223.20 174.40,223.20 176.86,223.20 179.32,223.21 181.79,223.21 184.25,223.21" fill="none" stroke="#d8dc52" stroke-width="0.85" stroke-linejoin="round" />
<polyline points="48.65,223.90 71.25,223.90 71.52,232.28 73.06,231.61" fill="none" stroke="#b8905a" stroke-width="0.8" stroke-linejoin="round" />
<polyline points="111.93,225.58 112.61,217.53 113.29,219.55 115.09,222.90 118.71,223.56" fill="none" stroke="#b8905a" stroke-width="0.9" stroke-linejoin="round" />
<rect x="108.2" y="219.6" width="3.7" height="16.3" fill="#3a4650"/>
<line x1="109.50" y1="222.80" x2="110.70" y2="222.80" stroke="#9aa5ad" stroke-width="0.8" />
<line x1="109.50" y1="226.20" x2="110.70" y2="226.20" stroke="#9aa5ad" stroke-width="0.8" />
<line x1="109.50" y1="229.60" x2="110.70" y2="229.60" stroke="#9aa5ad" stroke-width="0.8" />
<line x1="109.50" y1="233.00" x2="110.70" y2="233.00" stroke="#9aa5ad" stroke-width="0.8" />
<line x1="48.50" y1="156.30" x2="48.50" y2="240.70" stroke="#262626" stroke-width="0.95" />
<line x1="48.00" y1="240.20" x2="184.60" y2="240.20" stroke="#262626" stroke-width="0.95" />
<line x1="44.40" y1="240.05" x2="48.50" y2="240.05" stroke="#262626" stroke-width="0.95" />
<text x="43.20" y="242.41" font-size="6.6" text-anchor="end" font-weight="bold" fill="#1c1c1c" font-family='"Liberation Sans", sans-serif'  stroke="#1c1c1c" stroke-width="0.12">-5</text>
<line x1="44.40" y1="223.30" x2="48.50" y2="223.30" stroke="#262626" stroke-width="0.95" />
<text x="43.20" y="225.66" font-size="6.6" text-anchor="end" font-weight="bold" fill="#1c1c1c" font-family='"Liberation Sans", sans-serif'  stroke="#1c1c1c" stroke-width="0.12">0</text>
<line x1="44.40" y1="206.55" x2="48.50" y2="206.55" stroke="#262626" stroke-width="0.95" />
<text x="43.20" y="208.91" font-size="6.6" text-anchor="end" font-weight="bold" fill="#1c1c1c" font-family='"Liberation Sans", sans-serif'  stroke="#1c1c1c" stroke-width="0.12">5</text>
<line x1="44.40" y1="189.80" x2="48.50" y2="189.80" stroke="#262626" stroke-width="0.95" />
<text x="43.20" y="192.16" font-size="6.6" text-anchor="end" font-weight="bold" fill="#1c1c1c" font-family='"Liberation Sans", sans-serif'  stroke="#1c1c1c" stroke-width="0.12">10</text>
<line x1="44.40" y1="173.05" x2="48.50" y2="173.05" stroke="#262626" stroke-width="0.95" />
<text x="43.20" y="175.41" font-size="6.6" text-anchor="end" font-weight="bold" fill="#1c1c1c" font-family='"Liberation Sans", sans-serif'  stroke="#1c1c1c" stroke-width="0.12">15</text>
<line x1="44.40" y1="156.30" x2="48.50" y2="156.30" stroke="#262626" stroke-width="0.95" />
<text x="43.20" y="158.66" font-size="6.6" text-anchor="end" font-weight="bold" fill="#1c1c1c" font-family='"Liberation Sans", sans-serif'  stroke="#1c1c1c" stroke-width="0.12">20</text>
<line x1="71.25" y1="240.20" x2="71.25" y2="243.60" stroke="#262626" stroke-width="0.95" />
<text x="71.25" y="250.88" font-size="6.65" text-anchor="middle" font-weight="bold" fill="#1c1c1c" font-family='"Liberation Sans", sans-serif'  stroke="#1c1c1c" stroke-width="0.12">0</text>
<line x1="116.45" y1="240.20" x2="116.45" y2="243.60" stroke="#262626" stroke-width="0.95" />
<text x="116.45" y="250.88" font-size="6.65" text-anchor="middle" font-weight="bold" fill="#1c1c1c" font-family='"Liberation Sans", sans-serif'  stroke="#1c1c1c" stroke-width="0.12">100</text>
<line x1="161.65" y1="240.20" x2="161.65" y2="243.60" stroke="#262626" stroke-width="0.95" />
<text x="161.65" y="250.88" font-size="6.65" text-anchor="middle" font-weight="bold" fill="#1c1c1c" font-family='"Liberation Sans", sans-serif'  stroke="#1c1c1c" stroke-width="0.12">200</text>
<text x="117.50" y="260.69" font-size="6.4" text-anchor="middle" font-weight="bold" fill="#1c1c1c" font-family='"Liberation Sans", sans-serif'  stroke="#1c1c1c" stroke-width="0.12">Time (s)</text>
<text transform="translate(27.90,195.80) rotate(-90)" x="0" y="2.36" font-size="6.6" text-anchor="middle" font-weight="bold" fill="#1c1c1c" font-family='"Liberation Sans", sans-serif'  stroke="#1c1c1c" stroke-width="0.12">Relative Response</text>
<text x="193.20" y="155.53" font-size="6.8" text-anchor="start" font-weight="bold" fill="#1c1c1c" font-family='"Liberation Sans", sans-serif'  stroke="#1c1c1c" stroke-width="0.05">[pAp] nM</text>
<line x1="192.40" y1="155.70" x2="223.70" y2="155.70" stroke="#9a9a9a" stroke-width="0.5" />
<line x1="193.00" y1="164.50" x2="202.80" y2="164.50" stroke="#d6df4e" stroke-width="1.15" />
<text x="207.90" y="167.08" font-size="7.2" text-anchor="start" font-weight="normal" fill="#222" font-family='"Liberation Sans", sans-serif'  stroke="#222" stroke-width="0.1">200</text>
<line x1="193.00" y1="176.63" x2="202.80" y2="176.63" stroke="#c99be6" stroke-width="1.15" />
<text x="207.90" y="179.21" font-size="7.2" text-anchor="start" font-weight="normal" fill="#222" font-family='"Liberation Sans", sans-serif'  stroke="#222" stroke-width="0.1">100</text>
<line x1="193.00" y1="188.76" x2="202.80" y2="188.76" stroke="#cdb66c" stroke-width="1.15" />
<text x="207.90" y="191.34" font-size="7.2" text-anchor="start" font-weight="normal" fill="#222" font-family='"Liberation Sans", sans-serif'  stroke="#222" stroke-width="0.1">50</text>
<line x1="193.00" y1="200.89" x2="202.80" y2="200.89" stroke="#ea74bd" stroke-width="1.15" />
<text x="207.90" y="203.47" font-size="7.2" text-anchor="start" font-weight="normal" fill="#222" font-family='"Liberation Sans", sans-serif'  stroke="#222" stroke-width="0.1">25</text>
<line x1="193.00" y1="213.02" x2="202.80" y2="213.02" stroke="#72d672" stroke-width="1.15" />
<text x="207.90" y="215.60" font-size="7.2" text-anchor="start" font-weight="normal" fill="#222" font-family='"Liberation Sans", sans-serif'  stroke="#222" stroke-width="0.1">12.5</text>
<line x1="193.00" y1="225.15" x2="202.80" y2="225.15" stroke="#eda645" stroke-width="1.15" />
<text x="207.90" y="227.73" font-size="7.2" text-anchor="start" font-weight="normal" fill="#222" font-family='"Liberation Sans", sans-serif'  stroke="#222" stroke-width="0.1">6.25</text>
<line x1="193.00" y1="237.28" x2="202.80" y2="237.28" stroke="#92c4ee" stroke-width="1.15" />
<text x="207.90" y="239.86" font-size="7.2" text-anchor="start" font-weight="normal" fill="#222" font-family='"Liberation Sans", sans-serif'  stroke="#222" stroke-width="0.1">3.13</text>
<text x="259.90" y="145.87" font-size="12.5" text-anchor="start" font-weight="normal" fill="#1c1c1c" font-family='"Liberation Sans", sans-serif'  stroke="#1c1c1c" stroke-width="0.12">f)</text>
<line x1="289.30" y1="166.80" x2="414.40" y2="166.80" stroke="#444" stroke-width="0.75" stroke-dasharray="1.1 1.95"/>
<line x1="289.30" y1="197.40" x2="414.40" y2="197.40" stroke="#444" stroke-width="0.75" stroke-dasharray="1.1 1.95"/>
<line x1="283.60" y1="197.40" x2="287.30" y2="197.40" stroke="#262626" stroke-width="0.95" />
<polyline points="302.38,227.27 303.30,227.19 304.23,227.10 305.15,227.00 306.08,226.89 307.01,226.77 307.93,226.64 308.86,226.49 309.78,226.33 310.71,226.15 311.64,225.95 312.56,225.74 313.49,225.50 314.41,225.23 315.34,224.94 316.27,224.62 317.19,224.27 318.12,223.89 319.04,223.47 319.97,223.01 320.90,222.50 321.82,221.96 322.75,221.36 323.67,220.71 324.60,220.01 325.53,219.26 326.45,218.44 327.38,217.56 328.30,216.62 329.23,215.62 330.16,214.55 331.08,213.42 332.01,212.22 332.93,210.97 333.86,209.65 334.79,208.27 335.71,206.85 336.64,205.37 337.56,203.86 338.49,202.31 339.42,200.73 340.34,199.14 341.27,197.54 342.19,195.93 343.12,194.34 344.05,192.76 344.97,191.21 345.90,189.69 346.82,188.20 347.75,186.77 348.68,185.38 349.60,184.06 350.53,182.79 351.45,181.58 352.38,180.44 353.31,179.36 354.23,178.34 355.16,177.39 356.08,176.51 357.01,175.68 357.94,174.91 358.86,174.20 359.79,173.55 360.71,172.94 361.64,172.39 362.57,171.88 363.49,171.41 364.42,170.98 365.34,170.59 366.27,170.24 367.20,169.91 368.12,169.62 369.05,169.35 369.97,169.10 370.90,168.88 371.83,168.68 372.75,168.50 373.68,168.33 374.60,168.18 375.53,168.05 376.46,167.93 377.38,167.82 378.31,167.72 379.23,167.63 380.16,167.55 381.09,167.47 382.01,167.41 382.94,167.35 383.86,167.29 384.79,167.24 385.72,167.20 386.64,167.16 387.57,167.12 388.49,167.09 389.42,167.06 390.35,167.04 391.27,167.01 392.20,166.99 393.12,166.97 394.05,166.96" fill="none" stroke="#e2e2e2" stroke-width="0.6" stroke-linejoin="round" />
<polyline points="302.38,227.40 303.30,227.33 304.23,227.26 305.15,227.18 306.08,227.09 307.01,226.99 307.93,226.88 308.86,226.76 309.78,226.62 310.71,226.47 311.64,226.31 312.56,226.13 313.49,225.93 314.41,225.71 315.34,225.47 316.27,225.20 317.19,224.90 318.12,224.58 319.04,224.23 319.97,223.84 320.90,223.41 321.82,222.95 322.75,222.44 323.67,221.88 324.60,221.28 325.53,220.63 326.45,219.92 327.38,219.16 328.30,218.33 329.23,217.45 330.16,216.50 331.08,215.49 332.01,214.42 332.93,213.27 333.86,212.07 334.79,210.80 335.71,209.48 336.64,208.10 337.56,206.66 338.49,205.18 339.42,203.66 340.34,202.11 341.27,200.53 342.19,198.94 343.12,197.34 344.05,195.73 344.97,194.14 345.90,192.56 346.82,191.01 347.75,189.50 348.68,188.02 349.60,186.59 350.53,185.21 351.45,183.89 352.38,182.63 353.31,181.43 354.23,180.30 355.16,179.23 356.08,178.22 357.01,177.28 357.94,176.40 358.86,175.58 359.79,174.82 360.71,174.12 361.64,173.47 362.57,172.87 363.49,172.32 364.42,171.82 365.34,171.35 366.27,170.93 367.20,170.54 368.12,170.19 369.05,169.87 369.97,169.58 370.90,169.31 371.83,169.07 372.75,168.85 373.68,168.66 374.60,168.48 375.53,168.31 376.46,168.17 377.38,168.03 378.31,167.91 379.23,167.80 380.16,167.71 381.09,167.62 382.01,167.54 382.94,167.46 383.86,167.40 384.79,167.34 385.72,167.29 386.64,167.24 387.57,167.19 388.49,167.16 389.42,167.12 390.35,167.09 391.27,167.06 392.20,167.03 393.12,167.01 394.05,166.99" fill="none" stroke="#333" stroke-width="0.6" stroke-linejoin="round" />
<polyline points="302.38,227.51 303.30,227.46 304.23,227.40 305.15,227.33 306.08,227.26 307.01,227.18 307.93,227.09 308.86,226.99 309.78,226.88 310.71,226.75 311.64,226.62 312.56,226.47 313.49,226.31 314.41,226.13 315.34,225.93 316.27,225.71 317.19,225.46 318.12,225.19 319.04,224.90 319.97,224.58 320.90,224.22 321.82,223.83 322.75,223.41 323.67,222.94 324.60,222.43 325.53,221.88 326.45,221.27 327.38,220.62 328.30,219.91 329.23,219.15 330.16,218.32 331.08,217.44 332.01,216.49 332.93,215.48 333.86,214.40 334.79,213.26 335.71,212.05 336.64,210.79 337.56,209.46 338.49,208.08 339.42,206.64 340.34,205.16 341.27,203.64 342.19,202.09 343.12,200.51 344.05,198.92 344.97,197.32 345.90,195.71 346.82,194.12 347.75,192.54 348.68,190.99 349.60,189.48 350.53,188.00 351.45,186.57 352.38,185.20 353.31,183.88 354.23,182.62 355.16,181.42 356.08,180.28 357.01,179.21 357.94,178.21 358.86,177.27 359.79,176.39 360.71,175.57 361.64,174.81 362.57,174.11 363.49,173.46 364.42,172.86 365.34,172.31 366.27,171.81 367.20,171.35 368.12,170.93 369.05,170.54 369.97,170.19 370.90,169.87 371.83,169.58 372.75,169.31 373.68,169.07 374.60,168.85 375.53,168.65 376.46,168.47 377.38,168.31 378.31,168.16 379.23,168.03 380.16,167.91 381.09,167.80 382.01,167.70 382.94,167.62 383.86,167.54 384.79,167.46 385.72,167.40 386.64,167.34 387.57,167.29 388.49,167.24 389.42,167.19 390.35,167.16 391.27,167.12 392.20,167.09 393.12,167.06 394.05,167.03" fill="none" stroke="#333" stroke-width="0.6" stroke-linejoin="round" />
<polyline points="302.38,227.67 303.30,227.64 304.23,227.60 305.15,227.55 306.08,227.51 307.01,227.45 307.93,227.39 308.86,227.32 309.78,227.25 310.71,227.17 311.64,227.08 312.56,226.98 313.49,226.87 314.41,226.75 315.34,226.61 316.27,226.46 317.19,226.29 318.12,226.11 319.04,225.91 319.97,225.69 320.90,225.44 321.82,225.17 322.75,224.88 323.67,224.55 324.60,224.19 325.53,223.80 326.45,223.37 327.38,222.90 328.30,222.39 329.23,221.83 330.16,221.23 331.08,220.57 332.01,219.86 332.93,219.09 333.86,218.26 334.79,217.37 335.71,216.42 336.64,215.40 337.56,214.32 338.49,213.17 339.42,211.96 340.34,210.69 341.27,209.36 342.19,207.97 343.12,206.54 344.05,205.05 344.97,203.53 345.90,201.98 346.82,200.40 347.75,198.80 348.68,197.20 349.60,195.59 350.53,194.00 351.45,192.43 352.38,190.88 353.31,189.37 354.23,187.89 355.16,186.47 356.08,185.10 357.01,183.78 357.94,182.52 358.86,181.33 359.79,180.20 360.71,179.14 361.64,178.14 362.57,177.20 363.49,176.32 364.42,175.51 365.34,174.76 366.27,174.06 367.20,173.41 368.12,172.82 369.05,172.27 369.97,171.77 370.90,171.32 371.83,170.90 372.75,170.51 373.68,170.16 374.60,169.85 375.53,169.56 376.46,169.29 377.38,169.05 378.31,168.84 379.23,168.64 380.16,168.46 381.09,168.30 382.01,168.15 382.94,168.02 383.86,167.90 384.79,167.79 385.72,167.70 386.64,167.61 387.57,167.53 388.49,167.46 389.42,167.39 390.35,167.33 391.27,167.28 392.20,167.23 393.12,167.19 394.05,167.15" fill="none" stroke="#ef5a5a" stroke-width="0.6" stroke-linejoin="round" />
<polyline points="302.38,227.77 303.30,227.75 304.23,227.72 305.15,227.69 306.08,227.66 307.01,227.62 307.93,227.58 308.86,227.53 309.78,227.48 310.71,227.42 311.64,227.36 312.56,227.29 313.49,227.21 314.41,227.13 315.34,227.03 316.27,226.93 317.19,226.81 318.12,226.68 319.04,226.54 319.97,226.38 320.90,226.21 321.82,226.01 322.75,225.80 323.67,225.57 324.60,225.31 325.53,225.03 326.45,224.72 327.38,224.38 328.30,224.00 329.23,223.59 330.16,223.14 331.08,222.65 332.01,222.12 332.93,221.54 333.86,220.91 334.79,220.22 335.71,219.48 336.64,218.68 337.56,217.83 338.49,216.90 339.42,215.92 340.34,214.87 341.27,213.76 342.19,212.58 343.12,211.34 344.05,210.04 344.97,208.68 345.90,207.27 346.82,205.80 347.75,204.30 348.68,202.76 349.60,201.19 350.53,199.60 351.45,198.00 352.38,196.40 353.31,194.80 354.23,193.22 355.16,191.66 356.08,190.12 357.01,188.63 357.94,187.18 358.86,185.78 359.79,184.44 360.71,183.15 361.64,181.92 362.57,180.76 363.49,179.66 364.42,178.63 365.34,177.66 366.27,176.76 367.20,175.91 368.12,175.13 369.05,174.40 369.97,173.73 370.90,173.11 371.83,172.54 372.75,172.02 373.68,171.54 374.60,171.10 375.53,170.70 376.46,170.34 377.38,170.00 378.31,169.70 379.23,169.42 380.16,169.17 381.09,168.94 382.01,168.74 382.94,168.55 383.86,168.38 384.79,168.23 385.72,168.09 386.64,167.96 387.57,167.85 388.49,167.75 389.42,167.65 390.35,167.57 391.27,167.49 392.20,167.42 393.12,167.36 394.05,167.31" fill="none" stroke="#f0a84a" stroke-width="0.6" stroke-linejoin="round" />
<polyline points="302.38,227.85 303.30,227.83 304.23,227.81 305.15,227.79 306.08,227.77 307.01,227.75 307.93,227.72 308.86,227.69 309.78,227.65 310.71,227.62 311.64,227.57 312.56,227.53 313.49,227.47 314.41,227.42 315.34,227.35 316.27,227.28 317.19,227.20 318.12,227.12 319.04,227.02 319.97,226.91 320.90,226.80 321.82,226.67 322.75,226.52 323.67,226.36 324.60,226.19 325.53,225.99 326.45,225.78 327.38,225.54 328.30,225.29 329.23,225.00 330.16,224.69 331.08,224.34 332.01,223.96 332.93,223.55 333.86,223.10 334.79,222.60 335.71,222.06 336.64,221.48 337.56,220.84 338.49,220.15 339.42,219.41 340.34,218.60 341.27,217.74 342.19,216.81 343.12,215.82 344.05,214.76 344.97,213.64 345.90,212.46 346.82,211.21 347.75,209.90 348.68,208.54 349.60,207.12 350.53,205.66 351.45,204.15 352.38,202.61 353.31,201.03 354.23,199.44 355.16,197.84 356.08,196.24 357.01,194.64 357.94,193.06 358.86,191.50 359.79,189.97 360.71,188.48 361.64,187.04 362.57,185.64 363.49,184.30 364.42,183.02 365.34,181.80 366.27,180.65 367.20,179.56 368.12,178.53 369.05,177.57 369.97,176.67 370.90,175.83 371.83,175.05 372.75,174.33 373.68,173.67 374.60,173.05 375.53,172.49 376.46,171.97 377.38,171.50 378.31,171.06 379.23,170.66 380.16,170.30 381.09,169.97 382.01,169.67 382.94,169.40 383.86,169.15 384.79,168.92 385.72,168.72 386.64,168.53 387.57,168.36 388.49,168.21 389.42,168.07 390.35,167.95 391.27,167.84 392.20,167.74 393.12,167.64 394.05,167.56" fill="none" stroke="#5fd3e3" stroke-width="0.6" stroke-linejoin="round" />
<polyline points="302.38,227.92 303.30,227.91 304.23,227.90 305.15,227.88 306.08,227.87 307.01,227.86 307.93,227.84 308.86,227.83 309.78,227.81 310.71,227.78 311.64,227.76 312.56,227.73 313.49,227.71 314.41,227.67 315.34,227.64 316.27,227.60 317.19,227.55 318.12,227.50 319.04,227.45 319.97,227.39 320.90,227.32 321.82,227.25 322.75,227.17 323.67,227.08 324.60,226.97 325.53,226.86 326.45,226.74 327.38,226.60 328.30,226.45 329.23,226.29 330.16,226.10 331.08,225.90 332.01,225.68 332.93,225.43 333.86,225.16 334.79,224.86 335.71,224.54 336.64,224.18 337.56,223.78 338.49,223.35 339.42,222.88 340.34,222.37 341.27,221.81 342.19,221.20 343.12,220.54 344.05,219.83 344.97,219.06 345.90,218.23 346.82,217.33 347.75,216.38 348.68,215.36 349.60,214.27 350.53,213.13 351.45,211.91 352.38,210.64 353.31,209.31 354.23,207.92 355.16,206.48 356.08,204.99 357.01,203.47 357.94,201.91 358.86,200.33 359.79,198.74 360.71,197.13 361.64,195.53 362.57,193.94 363.49,192.37 364.42,190.82 365.34,189.31 366.27,187.84 367.20,186.41 368.12,185.04 369.05,183.73 369.97,182.48 370.90,181.29 371.83,180.16 372.75,179.10 373.68,178.10 374.60,177.16 375.53,176.29 376.46,175.48 377.38,174.73 378.31,174.03 379.23,173.39 380.16,172.80 381.09,172.25 382.01,171.76 382.94,171.30 383.86,170.88 384.79,170.50 385.72,170.15 386.64,169.83 387.57,169.55 388.49,169.28 389.42,169.04 390.35,168.83 391.27,168.63 392.20,168.46 393.12,168.29 394.05,168.15" fill="none" stroke="#8cd98c" stroke-width="0.6" stroke-linejoin="round" />
<polyline points="302.38,227.94 303.30,227.93 304.23,227.93 305.15,227.92 306.08,227.91 307.01,227.90 307.93,227.89 308.86,227.88 309.78,227.86 310.71,227.85 311.64,227.83 312.56,227.81 313.49,227.79 314.41,227.77 315.34,227.75 316.27,227.72 317.19,227.69 318.12,227.65 319.04,227.61 319.97,227.57 320.90,227.52 321.82,227.47 322.75,227.42 323.67,227.35 324.60,227.28 325.53,227.20 326.45,227.11 327.38,227.02 328.30,226.91 329.23,226.79 330.16,226.66 331.08,226.52 332.01,226.36 332.93,226.18 333.86,225.99 334.79,225.78 335.71,225.54 336.64,225.28 337.56,224.99 338.49,224.68 339.42,224.33 340.34,223.96 341.27,223.54 342.19,223.09 343.12,222.59 344.05,222.05 344.97,221.47 345.90,220.83 346.82,220.14 347.75,219.39 348.68,218.58 349.60,217.72 350.53,216.79 351.45,215.80 352.38,214.74 353.31,213.62 354.23,212.43 355.16,211.18 356.08,209.88 357.01,208.51 357.94,207.09 358.86,205.62 359.79,204.12 360.71,202.57 361.64,201.00 362.57,199.41 363.49,197.81 364.42,196.21 365.34,194.61 366.27,193.03 367.20,191.47 368.12,189.94 369.05,188.45 369.97,187.01 370.90,185.62 371.83,184.28 372.75,183.00 373.68,181.78 374.60,180.63 375.53,179.54 376.46,178.51 377.38,177.55 378.31,176.65 379.23,175.82 380.16,175.04 381.09,174.32 382.01,173.65 382.94,173.04 383.86,172.48 384.79,171.96 385.72,171.49 386.64,171.05 387.57,170.66 388.49,170.29 389.42,169.96 390.35,169.66 391.27,169.39 392.20,169.14 393.12,168.92 394.05,168.71" fill="none" stroke="#9a8fc9" stroke-width="0.6" stroke-linejoin="round" />
<line x1="302.38" y1="235.34" x2="302.38" y2="218.21" stroke="#666" stroke-width="0.55" />
<line x1="300.98" y1="218.21" x2="303.78" y2="218.21" stroke="#666" stroke-width="0.55" />
<line x1="312.56" y1="229.22" x2="312.56" y2="216.98" stroke="#666" stroke-width="0.55" />
<line x1="311.16" y1="216.98" x2="313.96" y2="216.98" stroke="#666" stroke-width="0.55" />
<line x1="332.93" y1="215.76" x2="332.93" y2="203.52" stroke="#666" stroke-width="0.55" />
<line x1="331.53" y1="203.52" x2="334.33" y2="203.52" stroke="#666" stroke-width="0.55" />
<line x1="343.12" y1="210.25" x2="343.12" y2="187.00" stroke="#666" stroke-width="0.55" />
<line x1="341.72" y1="187.00" x2="344.52" y2="187.00" stroke="#666" stroke-width="0.55" />
<line x1="322.75" y1="224.33" x2="322.75" y2="219.43" stroke="#666" stroke-width="0.55" />
<line x1="321.35" y1="219.43" x2="324.15" y2="219.43" stroke="#666" stroke-width="0.55" />
<polygon points="302.38,224.13 300.48,227.55 304.28,227.55" fill="#f4f4f4" stroke="#dcdcdc" stroke-width="0.6"/>
<polygon points="312.56,224.18 310.66,227.60 314.46,227.60" fill="#f4f4f4" stroke="#dcdcdc" stroke-width="0.6"/>
<polygon points="322.75,219.44 320.85,222.86 324.65,222.86" fill="#f4f4f4" stroke="#dcdcdc" stroke-width="0.6"/>
<polygon points="332.93,208.77 331.03,212.19 334.83,212.19" fill="#f4f4f4" stroke="#dcdcdc" stroke-width="0.6"/>
<polygon points="343.12,193.02 341.22,196.44 345.02,196.44" fill="#f4f4f4" stroke="#dcdcdc" stroke-width="0.6"/>
<polygon points="353.31,177.46 351.41,180.88 355.21,180.88" fill="#f4f4f4" stroke="#dcdcdc" stroke-width="0.6"/>
<polygon points="363.49,169.51 361.59,172.93 365.39,172.93" fill="#f4f4f4" stroke="#dcdcdc" stroke-width="0.6"/>
<polygon points="373.68,167.72 371.78,171.14 375.58,171.14" fill="#f4f4f4" stroke="#dcdcdc" stroke-width="0.6"/>
<polygon points="383.86,164.64 381.96,168.06 385.76,168.06" fill="#f4f4f4" stroke="#dcdcdc" stroke-width="0.6"/>
<polygon points="394.05,164.62 392.15,168.04 395.95,168.04" fill="#f4f4f4" stroke="#dcdcdc" stroke-width="0.6"/>
<rect x="300.78" y="227.62" width="3.20" height="3.20" fill="#fff" stroke="#555555" stroke-width="0.9"/>
<rect x="310.96" y="224.65" width="3.20" height="3.20" fill="#fff" stroke="#555555" stroke-width="0.9"/>
<rect x="321.15" y="221.50" width="3.20" height="3.20" fill="#fff" stroke="#555555" stroke-width="0.9"/>
<rect x="331.33" y="211.87" width="3.20" height="3.20" fill="#fff" stroke="#555555" stroke-width="0.9"/>
<rect x="341.52" y="195.91" width="3.20" height="3.20" fill="#fff" stroke="#555555" stroke-width="0.9"/>
<rect x="351.71" y="180.90" width="3.20" height="3.20" fill="#fff" stroke="#555555" stroke-width="0.9"/>
<rect x="361.89" y="170.31" width="3.20" height="3.20" fill="#fff" stroke="#555555" stroke-width="0.9"/>
<rect x="372.08" y="166.97" width="3.20" height="3.20" fill="#fff" stroke="#555555" stroke-width="0.9"/>
<rect x="382.26" y="165.60" width="3.20" height="3.20" fill="#fff" stroke="#555555" stroke-width="0.9"/>
<rect x="392.45" y="166.51" width="3.20" height="3.20" fill="#fff" stroke="#555555" stroke-width="0.9"/>
<circle cx="302.38" cy="228.61" r="1.60" fill="#fff" stroke="#1e1e1e" stroke-width="0.9"/>
<circle cx="312.56" cy="226.36" r="1.60" fill="#fff" stroke="#1e1e1e" stroke-width="0.9"/>
<circle cx="322.75" cy="220.04" r="1.60" fill="#fff" stroke="#1e1e1e" stroke-width="0.9"/>
<circle cx="332.93" cy="213.99" r="1.60" fill="#fff" stroke="#1e1e1e" stroke-width="0.9"/>
<circle cx="343.12" cy="200.55" r="1.60" fill="#fff" stroke="#1e1e1e" stroke-width="0.9"/>
<circle cx="353.31" cy="184.94" r="1.60" fill="#fff" stroke="#1e1e1e" stroke-width="0.9"/>
<circle cx="363.49" cy="173.76" r="1.60" fill="#fff" stroke="#1e1e1e" stroke-width="0.9"/>
<circle cx="373.68" cy="170.75" r="1.60" fill="#fff" stroke="#1e1e1e" stroke-width="0.9"/>
<circle cx="383.86" cy="166.76" r="1.60" fill="#fff" stroke="#1e1e1e" stroke-width="0.9"/>
<circle cx="394.05" cy="167.34" r="1.60" fill="#fff" stroke="#1e1e1e" stroke-width="0.9"/>
<polygon points="302.38,229.16 300.48,231.06 302.38,232.96 304.28,231.06" fill="#ef5a5a"/>
<polygon points="312.56,229.77 310.66,231.67 312.56,233.57 314.46,231.67" fill="#ef5a5a"/>
<polygon points="322.75,224.19 320.85,226.09 322.75,227.99 324.65,226.09" fill="#ef5a5a"/>
<polygon points="332.93,216.79 331.03,218.69 332.93,220.59 334.83,218.69" fill="#ef5a5a"/>
<polygon points="343.12,206.15 341.22,208.05 343.12,209.95 345.02,208.05" fill="#ef5a5a"/>
<polygon points="353.31,187.95 351.41,189.85 353.31,191.75 355.21,189.85" fill="#ef5a5a"/>
<polygon points="363.49,175.31 361.59,177.21 363.49,179.11 365.39,177.21" fill="#ef5a5a"/>
<polygon points="373.68,167.19 371.78,169.09 373.68,170.99 375.58,169.09" fill="#ef5a5a"/>
<polygon points="383.86,164.71 381.96,166.61 383.86,168.51 385.76,166.61" fill="#ef5a5a"/>
<polygon points="394.05,165.49 392.15,167.39 394.05,169.29 395.95,167.39" fill="#ef5a5a"/>
<polygon points="302.38,225.00 300.48,221.58 304.28,221.58" fill="#f0a84a"/>
<polygon points="312.56,228.06 310.66,224.64 314.46,224.64" fill="#f0a84a"/>
<polygon points="322.75,223.78 320.85,220.36 324.65,220.36" fill="#f0a84a"/>
<polygon points="332.93,223.99 331.03,220.57 334.83,220.57" fill="#f0a84a"/>
<polygon points="343.12,214.49 341.22,211.07 345.02,211.07" fill="#f0a84a"/>
<polygon points="353.31,198.03 351.41,194.61 355.21,194.61" fill="#f0a84a"/>
<polygon points="363.49,181.28 361.59,177.86 365.39,177.86" fill="#f0a84a"/>
<polygon points="373.68,171.79 371.78,168.37 375.58,168.37" fill="#f0a84a"/>
<polygon points="383.86,170.08 381.96,166.66 385.76,166.66" fill="#f0a84a"/>
<polygon points="394.05,169.59 392.15,166.17 395.95,166.17" fill="#f0a84a"/>
<polygon points="302.38,223.65 300.48,227.07 304.28,227.07" fill="#5fd3e3"/>
<polygon points="312.56,224.88 310.66,228.30 314.46,228.30" fill="#5fd3e3"/>
<polygon points="322.75,224.55 320.85,227.97 324.65,227.97" fill="#5fd3e3"/>
<polygon points="332.93,221.46 331.03,224.88 334.83,224.88" fill="#5fd3e3"/>
<polygon points="343.12,214.01 341.22,217.43 345.02,217.43" fill="#5fd3e3"/>
<polygon points="353.31,199.36 351.41,202.78 355.21,202.78" fill="#5fd3e3"/>
<polygon points="363.49,183.46 361.59,186.88 365.39,186.88" fill="#5fd3e3"/>
<polygon points="373.68,171.40 371.78,174.82 375.58,174.82" fill="#5fd3e3"/>
<polygon points="383.86,167.32 381.96,170.74 385.76,170.74" fill="#5fd3e3"/>
<polygon points="394.05,164.78 392.15,168.20 395.95,168.20" fill="#5fd3e3"/>
<rect x="300.78" y="225.79" width="3.20" height="3.20" fill="#8cd98c"/>
<rect x="310.96" y="226.40" width="3.20" height="3.20" fill="#8cd98c"/>
<rect x="321.15" y="228.85" width="3.20" height="3.20" fill="#8cd98c"/>
<rect x="331.33" y="222.58" width="3.20" height="3.20" fill="#8cd98c"/>
<rect x="341.52" y="219.22" width="3.20" height="3.20" fill="#8cd98c"/>
<rect x="351.71" y="208.36" width="3.20" height="3.20" fill="#8cd98c"/>
<rect x="361.89" y="191.64" width="3.20" height="3.20" fill="#8cd98c"/>
<rect x="372.08" y="177.27" width="3.20" height="3.20" fill="#8cd98c"/>
<rect x="382.26" y="169.50" width="3.20" height="3.20" fill="#8cd98c"/>
<rect x="392.45" y="167.42" width="3.20" height="3.20" fill="#8cd98c"/>
<circle cx="302.38" cy="228.00" r="1.70" fill="#9a8fc9"/>
<circle cx="312.56" cy="222.49" r="1.70" fill="#9a8fc9"/>
<circle cx="322.75" cy="228.00" r="1.70" fill="#9a8fc9"/>
<circle cx="332.93" cy="225.13" r="1.70" fill="#9a8fc9"/>
<circle cx="343.12" cy="221.49" r="1.70" fill="#9a8fc9"/>
<circle cx="353.31" cy="213.77" r="1.70" fill="#9a8fc9"/>
<circle cx="363.49" cy="197.57" r="1.70" fill="#9a8fc9"/>
<circle cx="373.68" cy="181.24" r="1.70" fill="#9a8fc9"/>
<circle cx="383.86" cy="172.62" r="1.70" fill="#9a8fc9"/>
<circle cx="394.05" cy="170.02" r="1.70" fill="#9a8fc9"/>
<line x1="287.30" y1="154.60" x2="287.30" y2="240.80" stroke="#262626" stroke-width="1.05" />
<line x1="287.30" y1="227.90" x2="415.50" y2="227.90" stroke="#262626" stroke-width="1.0" />
<line x1="283.60" y1="240.24" x2="287.30" y2="240.24" stroke="#262626" stroke-width="0.95" />
<text x="282.30" y="242.64" font-size="6.7" text-anchor="end" font-weight="bold" fill="#1c1c1c" font-family='"Liberation Sans", sans-serif'  stroke="#1c1c1c" stroke-width="0.12">-20</text>
<line x1="283.60" y1="228.00" x2="287.30" y2="228.00" stroke="#262626" stroke-width="0.95" />
<text x="282.30" y="230.40" font-size="6.7" text-anchor="end" font-weight="bold" fill="#1c1c1c" font-family='"Liberation Sans", sans-serif'  stroke="#1c1c1c" stroke-width="0.12">0</text>
<line x1="283.60" y1="215.76" x2="287.30" y2="215.76" stroke="#262626" stroke-width="0.95" />
<text x="282.30" y="218.16" font-size="6.7" text-anchor="end" font-weight="bold" fill="#1c1c1c" font-family='"Liberation Sans", sans-serif'  stroke="#1c1c1c" stroke-width="0.12">20</text>
<line x1="283.60" y1="203.52" x2="287.30" y2="203.52" stroke="#262626" stroke-width="0.95" />
<text x="282.30" y="205.92" font-size="6.7" text-anchor="end" font-weight="bold" fill="#1c1c1c" font-family='"Liberation Sans", sans-serif'  stroke="#1c1c1c" stroke-width="0.12">40</text>
<line x1="283.60" y1="191.28" x2="287.30" y2="191.28" stroke="#262626" stroke-width="0.95" />
<text x="282.30" y="193.68" font-size="6.7" text-anchor="end" font-weight="bold" fill="#1c1c1c" font-family='"Liberation Sans", sans-serif'  stroke="#1c1c1c" stroke-width="0.12">60</text>
<line x1="283.60" y1="179.04" x2="287.30" y2="179.04" stroke="#262626" stroke-width="0.95" />
<text x="282.30" y="181.44" font-size="6.7" text-anchor="end" font-weight="bold" fill="#1c1c1c" font-family='"Liberation Sans", sans-serif'  stroke="#1c1c1c" stroke-width="0.12">80</text>
<line x1="283.60" y1="166.80" x2="287.30" y2="166.80" stroke="#262626" stroke-width="0.95" />
<text x="282.30" y="169.20" font-size="6.7" text-anchor="end" font-weight="bold" fill="#1c1c1c" font-family='"Liberation Sans", sans-serif'  stroke="#1c1c1c" stroke-width="0.12">100</text>
<line x1="283.60" y1="154.56" x2="287.30" y2="154.56" stroke="#262626" stroke-width="0.95" />
<text x="282.30" y="156.96" font-size="6.7" text-anchor="end" font-weight="bold" fill="#1c1c1c" font-family='"Liberation Sans", sans-serif'  stroke="#1c1c1c" stroke-width="0.12">120</text>
<line x1="308.65" y1="227.90" x2="308.65" y2="231.50" stroke="#262626" stroke-width="0.95" />
<text x="308.65" y="238.69" font-size="6.4" text-anchor="middle" font-weight="bold" fill="#1c1c1c" font-family='"Liberation Sans", sans-serif'  stroke="#1c1c1c" stroke-width="0.12">0.001</text>
<line x1="330.00" y1="227.90" x2="330.00" y2="231.50" stroke="#262626" stroke-width="0.95" />
<text x="330.00" y="238.69" font-size="6.4" text-anchor="middle" font-weight="bold" fill="#1c1c1c" font-family='"Liberation Sans", sans-serif'  stroke="#1c1c1c" stroke-width="0.12">0.01</text>
<line x1="351.35" y1="227.90" x2="351.35" y2="231.50" stroke="#262626" stroke-width="0.95" />
<text x="351.35" y="238.69" font-size="6.4" text-anchor="middle" font-weight="bold" fill="#1c1c1c" font-family='"Liberation Sans", sans-serif'  stroke="#1c1c1c" stroke-width="0.12">0.1</text>
<line x1="372.70" y1="227.90" x2="372.70" y2="231.50" stroke="#262626" stroke-width="0.95" />
<text x="372.70" y="238.69" font-size="6.4" text-anchor="middle" font-weight="bold" fill="#1c1c1c" font-family='"Liberation Sans", sans-serif'  stroke="#1c1c1c" stroke-width="0.12">1</text>
<line x1="394.05" y1="227.90" x2="394.05" y2="231.50" stroke="#262626" stroke-width="0.95" />
<text x="394.05" y="238.69" font-size="6.4" text-anchor="middle" font-weight="bold" fill="#1c1c1c" font-family='"Liberation Sans", sans-serif'  stroke="#1c1c1c" stroke-width="0.12">10</text>
<line x1="415.40" y1="227.90" x2="415.40" y2="231.50" stroke="#262626" stroke-width="0.95" />
<text x="415.40" y="238.69" font-size="6.4" text-anchor="middle" font-weight="bold" fill="#1c1c1c" font-family='"Liberation Sans", sans-serif'  stroke="#1c1c1c" stroke-width="0.12">100</text>
<text x="347.80" y="250.16" font-size="6.3" text-anchor="middle" font-weight="bold" fill="#1c1c1c" font-family='"Liberation Sans", sans-serif'  stroke="#1c1c1c" stroke-width="0.12">[pAp] (µM)</text>
<text transform="translate(265.30,196.80) rotate(-90)" x="0" y="2.54" font-size="7.1" text-anchor="middle" font-weight="bold" fill="#1c1c1c" font-family='"Liberation Sans", sans-serif'  stroke="#1c1c1c" stroke-width="0.12">Percent Inhibition</text>
<text x="421.00" y="150.21" font-size="7.3" text-anchor="start" font-weight="bold" fill="#1c1c1c" font-family='"Liberation Sans", sans-serif'  stroke="#1c1c1c" stroke-width="0.12">[Substrate]/K</text>
<text x="465.60" y="151.72" font-size="4.8" text-anchor="start" font-weight="bold" fill="#1c1c1c" font-family='"Liberation Sans", sans-serif'  stroke="#1c1c1c" stroke-width="0.12">m</text>
<line x1="434.80" y1="160.00" x2="445.10" y2="160.00" stroke="#9a8fc9" stroke-width="0.7" />
<circle cx="440.00" cy="160.00" r="1.53" fill="#9a8fc9"/>
<text x="449.50" y="162.51" font-size="7.0" text-anchor="start" font-weight="normal" fill="#222" font-family='"Liberation Sans", sans-serif'  stroke="#222" stroke-width="0.1">16</text>
<line x1="434.80" y1="171.40" x2="445.10" y2="171.40" stroke="#8cd98c" stroke-width="0.7" />
<rect x="438.56" y="169.96" width="2.88" height="2.88" fill="#8cd98c"/>
<text x="449.50" y="173.91" font-size="7.0" text-anchor="start" font-weight="normal" fill="#222" font-family='"Liberation Sans", sans-serif'  stroke="#222" stroke-width="0.1">8</text>
<line x1="434.80" y1="182.80" x2="445.10" y2="182.80" stroke="#5fd3e3" stroke-width="0.7" />
<polygon points="440.00,181.09 438.29,184.17 441.71,184.17" fill="#5fd3e3"/>
<text x="449.50" y="185.31" font-size="7.0" text-anchor="start" font-weight="normal" fill="#222" font-family='"Liberation Sans", sans-serif'  stroke="#222" stroke-width="0.1">4</text>
<line x1="434.80" y1="194.20" x2="445.10" y2="194.20" stroke="#f0a84a" stroke-width="0.7" />
<polygon points="440.00,195.91 438.29,192.83 441.71,192.83" fill="#f0a84a"/>
<text x="449.50" y="196.71" font-size="7.0" text-anchor="start" font-weight="normal" fill="#222" font-family='"Liberation Sans", sans-serif'  stroke="#222" stroke-width="0.1">2</text>
<line x1="434.80" y1="205.60" x2="445.10" y2="205.60" stroke="#ef5a5a" stroke-width="0.7" />
<polygon points="440.00,203.89 438.29,205.60 440.00,207.31 441.71,205.60" fill="#ef5a5a"/>
<text x="449.50" y="208.11" font-size="7.0" text-anchor="start" font-weight="normal" fill="#222" font-family='"Liberation Sans", sans-serif'  stroke="#222" stroke-width="0.1">1</text>
<line x1="434.80" y1="217.00" x2="445.10" y2="217.00" stroke="#333" stroke-width="0.7" />
<circle cx="440.00" cy="217.00" r="1.44" fill="#fff" stroke="#1e1e1e" stroke-width="0.9"/>
<text x="449.50" y="219.51" font-size="7.0" text-anchor="start" font-weight="normal" fill="#222" font-family='"Liberation Sans", sans-serif'  stroke="#222" stroke-width="0.1">0.5</text>
<line x1="434.80" y1="228.40" x2="445.10" y2="228.40" stroke="#333" stroke-width="0.7" />
<rect x="438.56" y="226.96" width="2.88" height="2.88" fill="#fff" stroke="#555555" stroke-width="0.9"/>
<text x="449.50" y="230.91" font-size="7.0" text-anchor="start" font-weight="normal" fill="#222" font-family='"Liberation Sans", sans-serif'  stroke="#222" stroke-width="0.1">0.25</text>
<line x1="434.80" y1="239.80" x2="445.10" y2="239.80" stroke="#e0e0e0" stroke-width="0.7" />
<polygon points="440.00,238.09 438.29,241.17 441.71,241.17" fill="#f4f4f4" stroke="#dcdcdc" stroke-width="0.6"/>
<text x="449.50" y="242.31" font-size="7.0" text-anchor="start" font-weight="normal" fill="#222" font-family='"Liberation Sans", sans-serif'  stroke="#222" stroke-width="0.1">0.125</text>
<text x="498.40" y="144.70" font-size="12" text-anchor="start" font-weight="normal" fill="#1c1c1c" font-family='"Liberation Serif", serif'  stroke="#1c1c1c" stroke-width="0.12">g)</text>
<polyline points="528.80,226.13 529.80,225.01 530.80,223.92 531.80,222.84 532.80,221.78 533.80,220.74 534.80,219.72 535.80,218.72 536.80,217.74 537.80,216.77 538.80,215.82 539.80,214.88 540.80,213.96 541.81,213.06 542.81,212.17 543.81,211.29 544.81,210.43 545.81,209.58 546.81,208.75 547.81,207.93 548.81,207.12 549.81,206.32 550.81,205.54 551.81,204.77 552.81,204.01 553.81,203.26 554.81,202.52 555.81,201.80 556.81,201.08 557.81,200.38 558.81,199.68 559.81,199.00 560.81,198.32 561.81,197.65 562.81,197.00 563.81,196.35 564.81,195.71 565.81,195.08 566.82,194.46 567.82,193.85 568.82,193.25 569.82,192.65 570.82,192.06 571.82,191.48 572.82,190.91 573.82,190.34 574.82,189.79 575.82,189.24 576.82,188.69 577.82,188.16 578.82,187.63 579.82,187.10 580.82,186.59 581.82,186.08 582.82,185.57 583.82,185.07 584.82,184.58 585.82,184.10 586.82,183.62 587.82,183.14 588.82,182.67 589.82,182.21 590.83,181.75 591.83,181.30 592.83,180.85 593.83,180.41 594.83,179.98 595.83,179.54 596.83,179.12 597.83,178.70 598.83,178.28 599.83,177.87 600.83,177.46 601.83,177.05 602.83,176.66 603.83,176.26 604.83,175.87 605.83,175.48 606.83,175.10 607.83,174.72 608.83,174.35 609.83,173.98 610.83,173.61 611.83,173.25 612.83,172.89 613.83,172.54 614.83,172.19 615.84,171.84 616.84,171.50 617.84,171.16 618.84,170.82 619.84,170.49 620.84,170.16 621.84,169.83 622.84,169.50 623.84,169.18 624.84,168.87 625.84,168.55 626.84,168.24 627.84,167.93" fill="none" stroke="#aea6d8" stroke-width="0.7" stroke-linejoin="round" />
<circle cx="529.57" cy="225.40" r="1.75" fill="#958bc8"/>
<circle cx="530.35" cy="224.26" r="1.75" fill="#958bc8"/>
<circle cx="531.89" cy="222.63" r="1.75" fill="#958bc8"/>
<circle cx="534.99" cy="218.56" r="1.75" fill="#958bc8"/>
<circle cx="541.18" cy="214.01" r="1.75" fill="#958bc8"/>
<circle cx="553.56" cy="205.87" r="1.75" fill="#958bc8"/>
<circle cx="578.32" cy="185.52" r="1.75" fill="#958bc8"/>
<circle cx="627.84" cy="168.58" r="1.75" fill="#958bc8"/>
<line x1="528.90" y1="149.70" x2="528.90" y2="231.80" stroke="#262626" stroke-width="0.9" />
<line x1="528.40" y1="231.60" x2="652.50" y2="231.60" stroke="#262626" stroke-width="0.9" />
<line x1="525.40" y1="231.10" x2="528.90" y2="231.10" stroke="#262626" stroke-width="0.9" />
<text x="524.90" y="233.50" font-size="6.7" text-anchor="end" font-weight="bold" fill="#1c1c1c" font-family='"Liberation Sans", sans-serif'  stroke="#1c1c1c" stroke-width="0.12">0.0</text>
<line x1="525.40" y1="214.82" x2="528.90" y2="214.82" stroke="#262626" stroke-width="0.9" />
<text x="524.90" y="217.22" font-size="6.7" text-anchor="end" font-weight="bold" fill="#1c1c1c" font-family='"Liberation Sans", sans-serif'  stroke="#1c1c1c" stroke-width="0.12">0.1</text>
<line x1="525.40" y1="198.54" x2="528.90" y2="198.54" stroke="#262626" stroke-width="0.9" />
<text x="524.90" y="200.94" font-size="6.7" text-anchor="end" font-weight="bold" fill="#1c1c1c" font-family='"Liberation Sans", sans-serif'  stroke="#1c1c1c" stroke-width="0.12">0.2</text>
<line x1="525.40" y1="182.26" x2="528.90" y2="182.26" stroke="#262626" stroke-width="0.9" />
<text x="524.90" y="184.66" font-size="6.7" text-anchor="end" font-weight="bold" fill="#1c1c1c" font-family='"Liberation Sans", sans-serif'  stroke="#1c1c1c" stroke-width="0.12">0.3</text>
<line x1="525.40" y1="165.98" x2="528.90" y2="165.98" stroke="#262626" stroke-width="0.9" />
<text x="524.90" y="168.38" font-size="6.7" text-anchor="end" font-weight="bold" fill="#1c1c1c" font-family='"Liberation Sans", sans-serif'  stroke="#1c1c1c" stroke-width="0.12">0.4</text>
<line x1="525.40" y1="149.70" x2="528.90" y2="149.70" stroke="#262626" stroke-width="0.9" />
<text x="524.90" y="152.10" font-size="6.7" text-anchor="end" font-weight="bold" fill="#1c1c1c" font-family='"Liberation Sans", sans-serif'  stroke="#1c1c1c" stroke-width="0.12">0.5</text>
<line x1="528.80" y1="231.60" x2="528.80" y2="235.00" stroke="#262626" stroke-width="0.9" />
<text x="528.80" y="242.76" font-size="6.6" text-anchor="middle" font-weight="bold" fill="#1c1c1c" font-family='"Liberation Sans", sans-serif'  stroke="#1c1c1c" stroke-width="0.12">0</text>
<line x1="559.75" y1="231.60" x2="559.75" y2="235.00" stroke="#262626" stroke-width="0.9" />
<text x="559.75" y="242.76" font-size="6.6" text-anchor="middle" font-weight="bold" fill="#1c1c1c" font-family='"Liberation Sans", sans-serif'  stroke="#1c1c1c" stroke-width="0.12">5</text>
<line x1="590.70" y1="231.60" x2="590.70" y2="235.00" stroke="#262626" stroke-width="0.9" />
<text x="590.70" y="242.76" font-size="6.6" text-anchor="middle" font-weight="bold" fill="#1c1c1c" font-family='"Liberation Sans", sans-serif'  stroke="#1c1c1c" stroke-width="0.12">10</text>
<line x1="621.65" y1="231.60" x2="621.65" y2="235.00" stroke="#262626" stroke-width="0.9" />
<text x="621.65" y="242.76" font-size="6.6" text-anchor="middle" font-weight="bold" fill="#1c1c1c" font-family='"Liberation Sans", sans-serif'  stroke="#1c1c1c" stroke-width="0.12">15</text>
<line x1="652.60" y1="231.60" x2="652.60" y2="235.00" stroke="#262626" stroke-width="0.9" />
<text x="652.60" y="242.76" font-size="6.6" text-anchor="middle" font-weight="bold" fill="#1c1c1c" font-family='"Liberation Sans", sans-serif'  stroke="#1c1c1c" stroke-width="0.12">20</text>
<text x="566.60" y="253.04" font-size="7.1" text-anchor="start" font-weight="bold" fill="#1c1c1c" font-family='"Liberation Sans", sans-serif'  stroke="#1c1c1c" stroke-width="0.12">[Substrate]/K</text>
<text x="610.00" y="254.55" font-size="4.6" text-anchor="start" font-weight="bold" fill="#1c1c1c" font-family='"Liberation Sans", sans-serif'  stroke="#1c1c1c" stroke-width="0.12">m</text>
<text transform="translate(500.60,190.50) rotate(-90)" x="0" y="2.47" font-size="6.9" text-anchor="middle" font-weight="bold" fill="#1c1c1c" font-family='"Liberation Sans", sans-serif'  stroke="#1c1c1c" stroke-width="0.12">pAp IC<tspan font-size="4.8" dy="1.3">50</tspan><tspan dy="-1.3"> (µM)</tspan></text>
</svg></body></html>
